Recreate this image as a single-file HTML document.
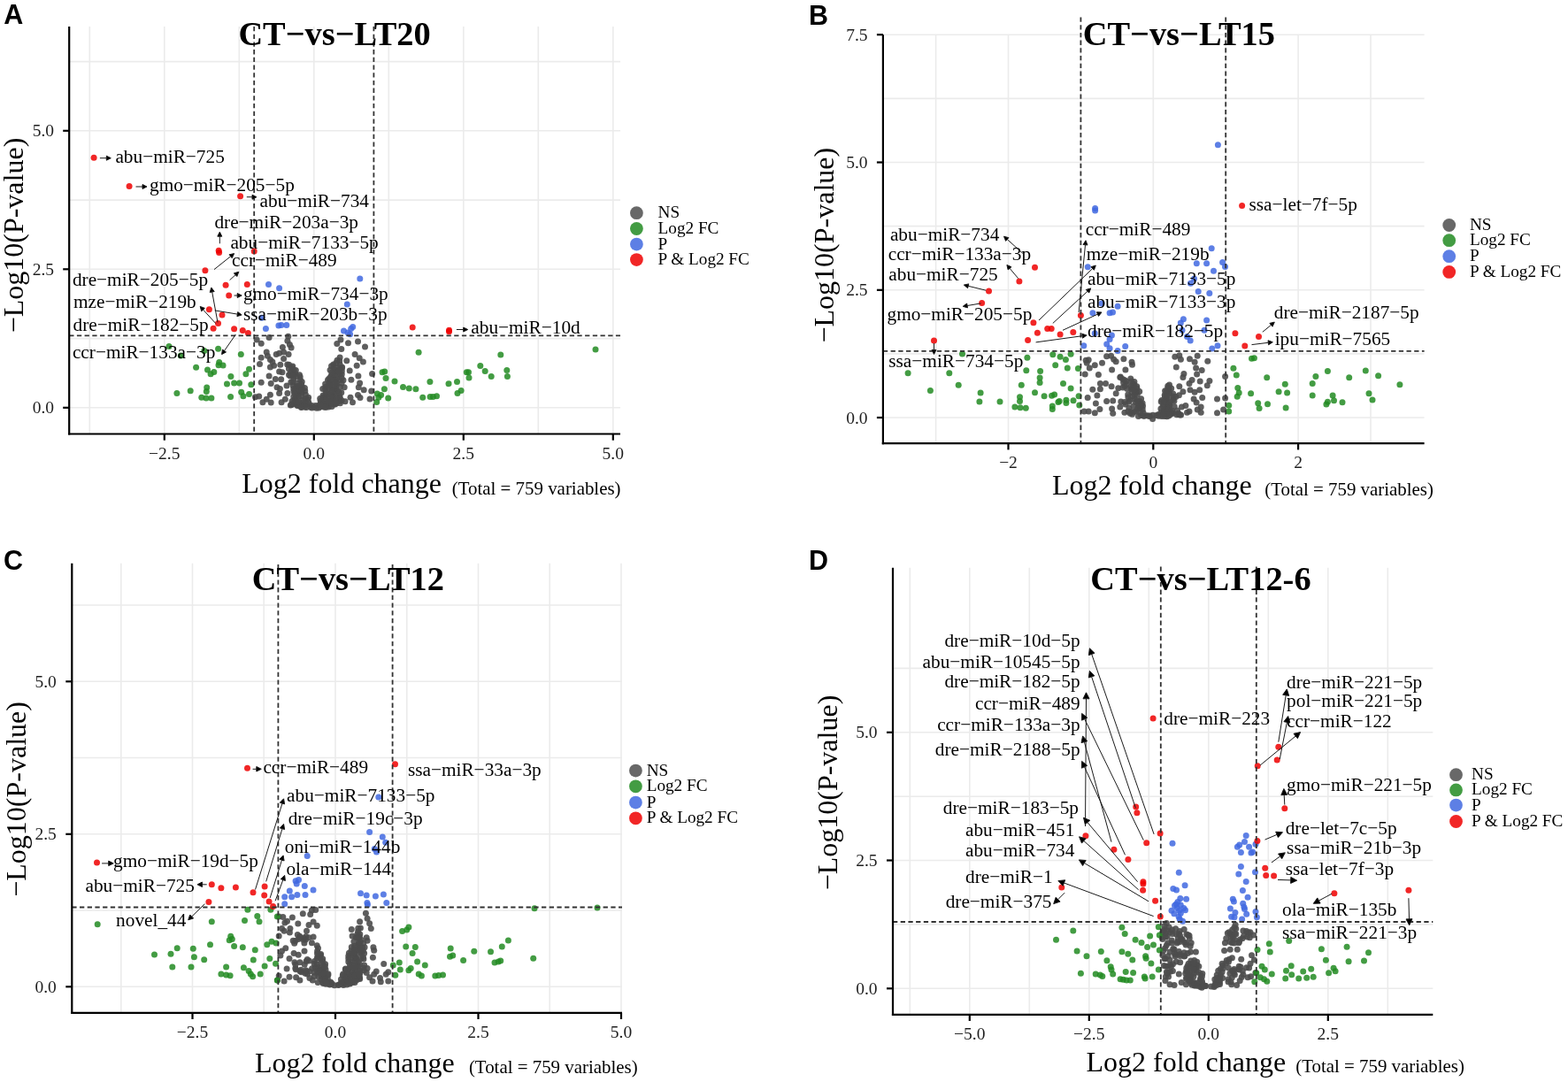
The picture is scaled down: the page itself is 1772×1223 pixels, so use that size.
<!DOCTYPE html>
<html><head><meta charset="utf-8"><title>Volcano plots</title>
<style>html,body{margin:0;padding:0;background:#fff;overflow:hidden;}svg{display:block;}</style>
</head><body>
<svg width="1772" height="1223" viewBox="0 0 1772 1223">
<defs><clipPath id="clipD"><rect x="1000" y="600" width="619.8" height="560"/></clipPath></defs>
<rect width="1772" height="1223" fill="#fff"/>
<g id="panelA"><g stroke="#ebebeb" stroke-width="1.6" fill="none">
<line x1="78.2" y1="460.8" x2="701" y2="460.8"/>
<line x1="78.2" y1="304.3" x2="701" y2="304.3"/>
<line x1="78.2" y1="147.8" x2="701" y2="147.8"/>
<line x1="78.2" y1="382.6" x2="701" y2="382.6"/>
<line x1="78.2" y1="226.1" x2="701" y2="226.1"/>
<line x1="78.2" y1="69.6" x2="701" y2="69.6"/>
<line x1="185.8" y1="30" x2="185.8" y2="490.5"/>
<line x1="354.8" y1="30" x2="354.8" y2="490.5"/>
<line x1="523.8" y1="30" x2="523.8" y2="490.5"/>
<line x1="692.8" y1="30" x2="692.8" y2="490.5"/>
<line x1="101.3" y1="30" x2="101.3" y2="490.5"/>
<line x1="270.3" y1="30" x2="270.3" y2="490.5"/>
<line x1="439.3" y1="30" x2="439.3" y2="490.5"/>
<line x1="608.3" y1="30" x2="608.3" y2="490.5"/>
</g>
<g>
<g fill="#4d4d4d" fill-opacity="0.9">
<circle cx="379.6" cy="429.3" r="3.5"/>
<circle cx="333.9" cy="422.4" r="3.5"/>
<circle cx="388" cy="429.7" r="3.5"/>
<circle cx="373.1" cy="418.3" r="3.5"/>
<circle cx="317.7" cy="428.8" r="3.5"/>
<circle cx="330.8" cy="414" r="3.5"/>
<circle cx="404.9" cy="425" r="3.5"/>
<circle cx="376.2" cy="448.1" r="3.5"/>
<circle cx="401.1" cy="400.5" r="3.5"/>
<circle cx="370.8" cy="449.4" r="3.5"/>
<circle cx="381.2" cy="442.1" r="3.5"/>
<circle cx="325.7" cy="380.2" r="3.5"/>
<circle cx="377.4" cy="452.3" r="3.5"/>
<circle cx="315.6" cy="444.5" r="3.5"/>
<circle cx="364.9" cy="448.9" r="3.5"/>
<circle cx="377.8" cy="456.6" r="3.5"/>
<circle cx="404.5" cy="446.6" r="3.5"/>
<circle cx="360.4" cy="458.2" r="3.5"/>
<circle cx="334.2" cy="450.3" r="3.5"/>
<circle cx="290.2" cy="384" r="3.5"/>
<circle cx="324.9" cy="385.2" r="3.5"/>
<circle cx="329.1" cy="457.6" r="3.5"/>
<circle cx="364" cy="451.4" r="3.5"/>
<circle cx="336.2" cy="445.8" r="3.5"/>
<circle cx="328.8" cy="431.9" r="3.5"/>
<circle cx="339.2" cy="426.1" r="3.5"/>
<circle cx="367" cy="457.9" r="3.5"/>
<circle cx="345.6" cy="450.4" r="3.5"/>
<circle cx="329.5" cy="418.9" r="3.5"/>
<circle cx="374.6" cy="424.3" r="3.5"/>
<circle cx="344.8" cy="441.9" r="3.5"/>
<circle cx="311.3" cy="428.4" r="3.5"/>
<circle cx="378.6" cy="456.9" r="3.5"/>
<circle cx="363.4" cy="456.6" r="3.5"/>
<circle cx="360.4" cy="460.9" r="3.5"/>
<circle cx="379.6" cy="439.6" r="3.5"/>
<circle cx="371.3" cy="458.5" r="3.5"/>
<circle cx="368.7" cy="459.2" r="3.5"/>
<circle cx="366.6" cy="448.5" r="3.5"/>
<circle cx="309.6" cy="413.2" r="3.5"/>
<circle cx="304.1" cy="425" r="3.5"/>
<circle cx="328" cy="425" r="3.5"/>
<circle cx="370.3" cy="454.8" r="3.5"/>
<circle cx="365" cy="447.1" r="3.5"/>
<circle cx="362.3" cy="456.4" r="3.5"/>
<circle cx="386.4" cy="416.1" r="3.5"/>
<circle cx="385" cy="384" r="3.5"/>
<circle cx="320.6" cy="397.9" r="3.5"/>
<circle cx="337.7" cy="438.8" r="3.5"/>
<circle cx="340.4" cy="459.9" r="3.5"/>
<circle cx="338.5" cy="423.7" r="3.5"/>
<circle cx="344.2" cy="457.7" r="3.5"/>
<circle cx="345.4" cy="457.7" r="3.5"/>
<circle cx="332.9" cy="451.6" r="3.5"/>
<circle cx="376.4" cy="447.3" r="3.5"/>
<circle cx="331.5" cy="455.2" r="3.5"/>
<circle cx="386.3" cy="422.9" r="3.5"/>
<circle cx="295.2" cy="388.2" r="3.5"/>
<circle cx="330.9" cy="456.9" r="3.5"/>
<circle cx="383.9" cy="449.5" r="3.5"/>
<circle cx="384.3" cy="423" r="3.5"/>
<circle cx="330" cy="453.5" r="3.5"/>
<circle cx="339.2" cy="429.5" r="3.5"/>
<circle cx="319" cy="420.8" r="3.5"/>
<circle cx="349.3" cy="456.8" r="3.5"/>
<circle cx="335.7" cy="457.2" r="3.5"/>
<circle cx="332" cy="428.1" r="3.5"/>
<circle cx="315.6" cy="420" r="3.5"/>
<circle cx="344.4" cy="457.7" r="3.5"/>
<circle cx="344.4" cy="438.5" r="3.5"/>
<circle cx="342.1" cy="454.7" r="3.5"/>
<circle cx="374.8" cy="440.4" r="3.5"/>
<circle cx="324" cy="436" r="3.5"/>
<circle cx="407" cy="449.6" r="3.5"/>
<circle cx="378.4" cy="441.9" r="3.5"/>
<circle cx="288.5" cy="448.7" r="3.5"/>
<circle cx="386.6" cy="414.9" r="3.5"/>
<circle cx="329.9" cy="415.3" r="3.5"/>
<circle cx="405.3" cy="437.7" r="3.5"/>
<circle cx="337.4" cy="444.9" r="3.5"/>
<circle cx="337.6" cy="455.6" r="3.5"/>
<circle cx="373" cy="455.3" r="3.5"/>
<circle cx="383.9" cy="453.6" r="3.5"/>
<circle cx="305.4" cy="414.9" r="3.5"/>
<circle cx="307.9" cy="409" r="3.5"/>
<circle cx="332.3" cy="418.3" r="3.5"/>
<circle cx="380.3" cy="435.6" r="3.5"/>
<circle cx="367.9" cy="452.2" r="3.5"/>
<circle cx="386.2" cy="452.8" r="3.5"/>
<circle cx="404.5" cy="386.1" r="3.5"/>
<circle cx="371.3" cy="445.8" r="3.5"/>
<circle cx="411.2" cy="440.7" r="3.5"/>
<circle cx="383.2" cy="417.8" r="3.5"/>
<circle cx="396" cy="449.2" r="3.5"/>
<circle cx="333" cy="444.4" r="3.5"/>
<circle cx="326.6" cy="412.3" r="3.5"/>
<circle cx="382.8" cy="415.2" r="3.5"/>
<circle cx="383.5" cy="429.6" r="3.5"/>
<circle cx="340.9" cy="444" r="3.5"/>
<circle cx="330.8" cy="431.7" r="3.5"/>
<circle cx="370.5" cy="429.4" r="3.5"/>
<circle cx="386" cy="433.3" r="3.5"/>
<circle cx="313" cy="437.7" r="3.5"/>
<circle cx="378" cy="420.8" r="3.5"/>
<circle cx="351" cy="460.3" r="3.5"/>
<circle cx="331.2" cy="436.1" r="3.5"/>
<circle cx="380.8" cy="388.6" r="3.5"/>
<circle cx="376.8" cy="412" r="3.5"/>
<circle cx="419.7" cy="442" r="3.5"/>
<circle cx="373.5" cy="453.5" r="3.5"/>
<circle cx="373.6" cy="426" r="3.5"/>
<circle cx="331.9" cy="442.3" r="3.5"/>
<circle cx="367.7" cy="456.3" r="3.5"/>
<circle cx="384.1" cy="448.7" r="3.5"/>
<circle cx="357.8" cy="461.3" r="3.5"/>
<circle cx="296.9" cy="454.7" r="3.5"/>
<circle cx="334.4" cy="447.8" r="3.5"/>
<circle cx="295.2" cy="432.2" r="3.5"/>
<circle cx="334.7" cy="441.8" r="3.5"/>
<circle cx="322.3" cy="451.3" r="3.5"/>
<circle cx="383.7" cy="408.1" r="3.5"/>
<circle cx="335.6" cy="433.3" r="3.5"/>
<circle cx="376.5" cy="457.1" r="3.5"/>
<circle cx="380.1" cy="420.2" r="3.5"/>
<circle cx="324.9" cy="444.5" r="3.5"/>
<circle cx="384.1" cy="404.1" r="3.5"/>
<circle cx="374.5" cy="413.8" r="3.5"/>
<circle cx="301.2" cy="451.3" r="3.5"/>
<circle cx="341.1" cy="458.2" r="3.5"/>
<circle cx="347.8" cy="451" r="3.5"/>
<circle cx="380.2" cy="433.3" r="3.5"/>
<circle cx="341.9" cy="457.3" r="3.5"/>
<circle cx="367.6" cy="439.6" r="3.5"/>
<circle cx="352.5" cy="461" r="3.5"/>
<circle cx="368.4" cy="445.2" r="3.5"/>
<circle cx="304.1" cy="381.4" r="3.5"/>
<circle cx="391.8" cy="407.7" r="3.5"/>
<circle cx="380" cy="423.9" r="3.5"/>
<circle cx="386" cy="427.2" r="3.5"/>
<circle cx="380.3" cy="446.8" r="3.5"/>
<circle cx="385.8" cy="394.6" r="3.5"/>
<circle cx="376.6" cy="439.7" r="3.5"/>
<circle cx="371.8" cy="427.9" r="3.5"/>
<circle cx="345.4" cy="445.9" r="3.5"/>
<circle cx="375" cy="437.3" r="3.5"/>
<circle cx="379.5" cy="453.2" r="3.5"/>
<circle cx="412.5" cy="392" r="3.5"/>
<circle cx="331.9" cy="422.8" r="3.5"/>
<circle cx="384.3" cy="437.5" r="3.5"/>
<circle cx="339" cy="440.9" r="3.5"/>
<circle cx="380.2" cy="427.8" r="3.5"/>
<circle cx="384.4" cy="455.8" r="3.5"/>
<circle cx="376.9" cy="413.3" r="3.5"/>
<circle cx="326.1" cy="400.5" r="3.5"/>
<circle cx="328.3" cy="458.1" r="3.5"/>
<circle cx="371.2" cy="439.7" r="3.5"/>
<circle cx="386.3" cy="419.5" r="3.5"/>
<circle cx="336.1" cy="458.5" r="3.5"/>
<circle cx="368.8" cy="457.1" r="3.5"/>
<circle cx="418" cy="450.9" r="3.5"/>
<circle cx="384.1" cy="412" r="3.5"/>
<circle cx="326.5" cy="423.7" r="3.5"/>
<circle cx="385.8" cy="443.7" r="3.5"/>
<circle cx="335.9" cy="436.5" r="3.5"/>
<circle cx="377.9" cy="418.3" r="3.5"/>
<circle cx="380" cy="418.4" r="3.5"/>
<circle cx="318.1" cy="454.7" r="3.5"/>
<circle cx="381" cy="407.3" r="3.5"/>
<circle cx="346.2" cy="460.4" r="3.5"/>
<circle cx="379.6" cy="449" r="3.5"/>
<circle cx="334.4" cy="438" r="3.5"/>
<circle cx="368.3" cy="443.7" r="3.5"/>
<circle cx="329.1" cy="392.9" r="3.5"/>
<circle cx="341.2" cy="431.5" r="3.5"/>
<circle cx="362.2" cy="453.2" r="3.5"/>
<circle cx="341.3" cy="437.7" r="3.5"/>
<circle cx="337.2" cy="448.3" r="3.5"/>
<circle cx="373" cy="433.5" r="3.5"/>
<circle cx="337.3" cy="458.6" r="3.5"/>
<circle cx="362.4" cy="459.5" r="3.5"/>
<circle cx="344.7" cy="455.6" r="3.5"/>
<circle cx="403.2" cy="413.2" r="3.5"/>
<circle cx="331.8" cy="448.2" r="3.5"/>
<circle cx="316.8" cy="412.3" r="3.5"/>
<circle cx="396.9" cy="429.3" r="3.5"/>
<circle cx="368" cy="437.3" r="3.5"/>
<circle cx="306.2" cy="433.5" r="3.5"/>
<circle cx="374.3" cy="446.3" r="3.5"/>
<circle cx="371.9" cy="433.2" r="3.5"/>
<circle cx="341.9" cy="452.1" r="3.5"/>
<circle cx="380" cy="455.9" r="3.5"/>
<circle cx="398.5" cy="454.7" r="3.5"/>
<circle cx="340.7" cy="434.5" r="3.5"/>
<circle cx="367.6" cy="434.1" r="3.5"/>
<circle cx="395.2" cy="419.1" r="3.5"/>
<circle cx="326.4" cy="416.7" r="3.5"/>
<circle cx="334.2" cy="425.5" r="3.5"/>
<circle cx="319.4" cy="392.4" r="3.5"/>
<circle cx="295.2" cy="404.3" r="3.5"/>
<circle cx="320.6" cy="405.6" r="3.5"/>
<circle cx="335.1" cy="453.8" r="3.5"/>
<circle cx="376.7" cy="436.3" r="3.5"/>
<circle cx="324.7" cy="412.1" r="3.5"/>
<circle cx="305.4" cy="446.2" r="3.5"/>
<circle cx="340.4" cy="447.8" r="3.5"/>
<circle cx="306.2" cy="455.1" r="3.5"/>
<circle cx="390.1" cy="453.8" r="3.5"/>
<circle cx="338.1" cy="436.5" r="3.5"/>
<circle cx="371.3" cy="460.1" r="3.5"/>
<circle cx="348.7" cy="454.4" r="3.5"/>
<circle cx="375.1" cy="442.1" r="3.5"/>
<circle cx="364.7" cy="439.6" r="3.5"/>
<circle cx="406.2" cy="404.7" r="3.5"/>
<circle cx="365.4" cy="458.5" r="3.5"/>
<circle cx="374.3" cy="429.1" r="3.5"/>
<circle cx="365.7" cy="460" r="3.5"/>
<circle cx="420.6" cy="422.5" r="3.5"/>
<circle cx="305.4" cy="406.4" r="3.5"/>
<circle cx="371.6" cy="435.9" r="3.5"/>
<circle cx="377.7" cy="422.8" r="3.5"/>
<circle cx="292.7" cy="447.9" r="3.5"/>
<circle cx="374.9" cy="421.1" r="3.5"/>
<circle cx="312.2" cy="400.5" r="3.5"/>
<circle cx="328" cy="422" r="3.5"/>
<circle cx="327.4" cy="389.5" r="3.5"/>
<circle cx="373.3" cy="448.7" r="3.5"/>
<circle cx="356.8" cy="458.5" r="3.5"/>
<circle cx="316.4" cy="439.4" r="3.5"/>
<circle cx="377.1" cy="430.2" r="3.5"/>
<circle cx="378.3" cy="432.3" r="3.5"/>
<circle cx="361.7" cy="450.5" r="3.5"/>
<circle cx="293.5" cy="411.5" r="3.5"/>
<circle cx="344.4" cy="460" r="3.5"/>
<circle cx="393.5" cy="387.8" r="3.5"/>
<circle cx="379.8" cy="410.3" r="3.5"/>
<circle cx="302.4" cy="402.2" r="3.5"/>
<circle cx="375" cy="459.4" r="3.5"/>
<circle cx="330.9" cy="424.6" r="3.5"/>
<circle cx="352.6" cy="458.5" r="3.5"/>
<circle cx="410.4" cy="409" r="3.5"/>
<circle cx="374.5" cy="455.4" r="3.5"/>
<circle cx="368" cy="460.5" r="3.5"/>
<circle cx="334.3" cy="418.5" r="3.5"/>
<circle cx="379.8" cy="455.5" r="3.5"/>
<circle cx="382.7" cy="419.8" r="3.5"/>
<circle cx="355.4" cy="460.1" r="3.5"/>
<circle cx="340.6" cy="460.4" r="3.5"/>
<circle cx="362.1" cy="457.4" r="3.5"/>
<circle cx="337.2" cy="454" r="3.5"/>
<circle cx="370.8" cy="453.6" r="3.5"/>
<circle cx="301.2" cy="397.9" r="3.5"/>
<circle cx="315.6" cy="399.2" r="3.5"/>
<circle cx="389.2" cy="437.7" r="3.5"/>
<circle cx="340.9" cy="441.3" r="3.5"/>
<circle cx="331.8" cy="439.5" r="3.5"/>
<circle cx="406.6" cy="433.1" r="3.5"/>
<circle cx="383.2" cy="443.7" r="3.5"/>
<circle cx="348.6" cy="449.3" r="3.5"/>
</g>
<g fill="#228b22" fill-opacity="0.85">
<circle cx="191" cy="391.4" r="3.5"/>
<circle cx="204.3" cy="402.1" r="3.5"/>
<circle cx="230.8" cy="396.6" r="3.5"/>
<circle cx="246.6" cy="394.3" r="3.5"/>
<circle cx="272.3" cy="400.6" r="3.5"/>
<circle cx="221.6" cy="415.3" r="3.5"/>
<circle cx="234.5" cy="417.9" r="3.5"/>
<circle cx="238.1" cy="422.7" r="3.5"/>
<circle cx="241.8" cy="420.5" r="3.5"/>
<circle cx="247.7" cy="409.4" r="3.5"/>
<circle cx="247" cy="412.7" r="3.5"/>
<circle cx="252.1" cy="413.1" r="3.5"/>
<circle cx="260.9" cy="425.6" r="3.5"/>
<circle cx="277.9" cy="422.7" r="3.5"/>
<circle cx="281.5" cy="417.2" r="3.5"/>
<circle cx="256.5" cy="434.1" r="3.5"/>
<circle cx="264.6" cy="433" r="3.5"/>
<circle cx="270.5" cy="433" r="3.5"/>
<circle cx="283.8" cy="434.8" r="3.5"/>
<circle cx="272.7" cy="443.3" r="3.5"/>
<circle cx="274.9" cy="447.7" r="3.5"/>
<circle cx="281.5" cy="445.5" r="3.5"/>
<circle cx="260.6" cy="448.4" r="3.5"/>
<circle cx="199.9" cy="444.4" r="3.5"/>
<circle cx="215.2" cy="441.8" r="3.5"/>
<circle cx="233.7" cy="438.1" r="3.5"/>
<circle cx="233.3" cy="442.5" r="3.5"/>
<circle cx="227.8" cy="449.2" r="3.5"/>
<circle cx="233" cy="449.9" r="3.5"/>
<circle cx="238.9" cy="449.9" r="3.5"/>
<circle cx="473.1" cy="398.3" r="3.5"/>
<circle cx="673" cy="395" r="3.5"/>
<circle cx="565.8" cy="401" r="3.5"/>
<circle cx="542.8" cy="413.4" r="3.5"/>
<circle cx="548.2" cy="419.4" r="3.5"/>
<circle cx="555.2" cy="425.6" r="3.5"/>
<circle cx="572.8" cy="418.6" r="3.5"/>
<circle cx="573.4" cy="425.6" r="3.5"/>
<circle cx="527.3" cy="420.7" r="3.5"/>
<circle cx="529.5" cy="420.7" r="3.5"/>
<circle cx="530" cy="427" r="3.5"/>
<circle cx="432" cy="420.7" r="3.5"/>
<circle cx="434.7" cy="419.9" r="3.5"/>
<circle cx="436" cy="427.5" r="3.5"/>
<circle cx="446" cy="431" r="3.5"/>
<circle cx="455.5" cy="437.5" r="3.5"/>
<circle cx="462.3" cy="438.9" r="3.5"/>
<circle cx="469.9" cy="439.7" r="3.5"/>
<circle cx="434.4" cy="439.7" r="3.5"/>
<circle cx="426.3" cy="445.1" r="3.5"/>
<circle cx="427.9" cy="449.2" r="3.5"/>
<circle cx="425.7" cy="454.6" r="3.5"/>
<circle cx="430.6" cy="446.5" r="3.5"/>
<circle cx="438.7" cy="450" r="3.5"/>
<circle cx="477.7" cy="449.2" r="3.5"/>
<circle cx="485.9" cy="431.6" r="3.5"/>
<circle cx="486.1" cy="448.6" r="3.5"/>
<circle cx="489.4" cy="448.4" r="3.5"/>
<circle cx="493.5" cy="447.8" r="3.5"/>
<circle cx="507" cy="433.7" r="3.5"/>
<circle cx="516.5" cy="431.6" r="3.5"/>
<circle cx="517" cy="444.6" r="3.5"/>
<circle cx="521.1" cy="441.6" r="3.5"/>
</g>
<g fill="#4169e1" fill-opacity="0.85">
<circle cx="303.5" cy="321.4" r="3.5"/>
<circle cx="315.6" cy="325.7" r="3.5"/>
<circle cx="406.8" cy="315" r="3.5"/>
<circle cx="392.3" cy="344" r="3.5"/>
<circle cx="295.8" cy="359.2" r="3.5"/>
<circle cx="300.4" cy="371.4" r="3.5"/>
<circle cx="314.9" cy="368.1" r="3.5"/>
<circle cx="317.9" cy="367.6" r="3.5"/>
<circle cx="323.8" cy="367.6" r="3.5"/>
<circle cx="388.5" cy="374" r="3.5"/>
<circle cx="393.1" cy="376" r="3.5"/>
<circle cx="396.7" cy="371.4" r="3.5"/>
<circle cx="398.7" cy="369.4" r="3.5"/>
<circle cx="395.6" cy="377.8" r="3.5"/>
</g>
<g fill="#ee0000" fill-opacity="0.85">
<circle cx="106.1" cy="178.2" r="3.5"/>
<circle cx="146.1" cy="210.5" r="3.5"/>
<circle cx="271.6" cy="221.8" r="3.5"/>
<circle cx="247.2" cy="283.2" r="3.5"/>
<circle cx="247.6" cy="285.4" r="3.5"/>
<circle cx="287.2" cy="283.9" r="3.5"/>
<circle cx="231.9" cy="305.8" r="3.5"/>
<circle cx="255.1" cy="322.2" r="3.5"/>
<circle cx="279.3" cy="321.6" r="3.5"/>
<circle cx="258.7" cy="334" r="3.5"/>
<circle cx="236.4" cy="349.8" r="3.5"/>
<circle cx="251" cy="356.1" r="3.5"/>
<circle cx="246.5" cy="365.6" r="3.5"/>
<circle cx="241.1" cy="371.2" r="3.5"/>
<circle cx="264.6" cy="371.7" r="3.5"/>
<circle cx="274.3" cy="373.5" r="3.5"/>
<circle cx="280.4" cy="376.4" r="3.5"/>
<circle cx="466.2" cy="370.1" r="3.5"/>
<circle cx="507.5" cy="373.3" r="3.5"/>
<circle cx="507.5" cy="374.7" r="3.5"/>
</g>
</g>
<g stroke="#333" stroke-width="1.8" stroke-dasharray="5.3 3.4" fill="none">
<line x1="287.2" y1="30" x2="287.2" y2="490.5"/>
<line x1="422.4" y1="30" x2="422.4" y2="490.5"/>
<line x1="78.2" y1="379.4" x2="701" y2="379.4"/>
</g>
<g stroke="#1a1a1a" stroke-width="1" fill="#000">
<line x1="112.9" y1="178.7" x2="120.3" y2="178.7"/><polygon points="125.3,178.7 120.3,181.2 120.3,176.2"/>
<line x1="153.5" y1="211" x2="161" y2="211"/><polygon points="166,211 161,213.5 161,208.5"/>
<line x1="278.8" y1="222.7" x2="285" y2="222.7"/><polygon points="290,222.7 285,225.2 285,220.2"/>
<line x1="248.3" y1="275.3" x2="248.3" y2="267.2"/><polygon points="248.3,262.2 250.8,267.2 245.8,267.2"/>
<line x1="242" y1="304.6" x2="260.7" y2="289.7"/><polygon points="264.6,286.6 262.2,291.7 259.1,287.8"/>
<line x1="259.6" y1="316.6" x2="266.1" y2="310.7"/><polygon points="269.8,307.3 267.8,312.5 264.4,308.8"/>
<line x1="246" y1="364.4" x2="239.7" y2="329.9"/><polygon points="238.8,325 242.2,329.5 237.2,330.4"/>
<line x1="243.8" y1="365.6" x2="229.6" y2="350.1"/><polygon points="226.2,346.4 231.4,348.4 227.7,351.8"/>
<line x1="242.7" y1="350.9" x2="268.3" y2="355.1"/><polygon points="273.2,355.9 267.9,357.6 268.7,352.6"/>
<line x1="264.6" y1="334" x2="268.2" y2="334"/><polygon points="273.2,334 268.2,336.5 268.2,331.5"/>
<line x1="266.4" y1="378" x2="253.5" y2="396.5"/><polygon points="250.6,400.6 251.4,395.1 255.5,397.9"/>
<line x1="515.9" y1="372.5" x2="523.7" y2="372.5"/><polygon points="528.7,372.5 523.7,375 523.7,370"/>
</g>
<g font-family="'Liberation Serif', 'Times New Roman', serif" font-size="21.3" fill="#000">
<text x="130.4" y="183.9">abu−miR−725</text>
<text x="169" y="215.5">gmo−miR−205−5p</text>
<text x="293.6" y="233.5">abu−miR−734</text>
<text x="242.4" y="258.4">dre−miR−203a−3p</text>
<text x="260.4" y="281">abu−miR−7133−5p</text>
<text x="262" y="300.8">ccr−miR−489</text>
<text x="81.9" y="322.7">dre−miR−205−5p</text>
<text x="274.9" y="338.5">gmo−miR−734−3p</text>
<text x="83" y="347.5">mze−miR−219b</text>
<text x="274.9" y="362.2">ssa−miR−203b−3p</text>
<text x="82.5" y="373.5">dre−miR−182−5p</text>
<text x="81.9" y="405">ccr−miR−133a−3p</text>
<text x="532.3" y="377.4">abu−miR−10d</text>
</g>
<g stroke="#000" stroke-width="2.2" fill="none" stroke-linecap="butt">
<line x1="78.2" y1="30" x2="78.2" y2="491.6"/>
<line x1="77.1" y1="490.5" x2="701" y2="490.5"/>
<line x1="185.8" y1="490.5" x2="185.8" y2="497.7"/>
<line x1="354.8" y1="490.5" x2="354.8" y2="497.7"/>
<line x1="523.8" y1="490.5" x2="523.8" y2="497.7"/>
<line x1="692.8" y1="490.5" x2="692.8" y2="497.7"/>
<line x1="71.2" y1="460.8" x2="78.2" y2="460.8"/>
<line x1="71.2" y1="304.3" x2="78.2" y2="304.3"/>
<line x1="71.2" y1="147.8" x2="78.2" y2="147.8"/>
</g>
<g font-family="'Liberation Serif', 'Times New Roman', serif" font-size="19.5" fill="#1e1e1e">
<text x="185.8" y="518.6" text-anchor="middle">−2.5</text>
<text x="354.8" y="518.6" text-anchor="middle">0.0</text>
<text x="523.8" y="518.6" text-anchor="middle">2.5</text>
<text x="692.8" y="518.6" text-anchor="middle">5.0</text>
<text x="61" y="467.4" text-anchor="end">0.0</text>
<text x="61" y="310.9" text-anchor="end">2.5</text>
<text x="61" y="154.4" text-anchor="end">5.0</text>
</g>
<text x="269.4" y="50.8" font-family="'Liberation Serif', 'Times New Roman', serif" font-weight="bold" font-size="38.4" fill="#000">CT−vs−LT20</text>
<text x="273.3" y="556.6" font-family="'Liberation Serif', 'Times New Roman', serif" font-size="32" fill="#000">Log2 fold change</text>
<text x="510.8" y="558.6" font-family="'Liberation Serif', 'Times New Roman', serif" font-size="20.9" fill="#000">(Total = 759 variables)</text>
<text transform="translate(26.1,266) rotate(-90)" text-anchor="middle" font-family="'Liberation Serif', 'Times New Roman', serif" font-size="32" fill="#000">−Log10(P-value)</text>
<text x="4.2" y="27.1" font-family="'Liberation Sans', Arial, sans-serif" font-weight="bold" font-size="30.5" fill="#000">A</text>
<circle cx="719.4" cy="240.7" r="7.4" fill="#4d4d4d" fill-opacity="0.85"/>
<text x="743.6" y="246.1" font-family="'Liberation Serif', 'Times New Roman', serif" font-size="19.2" fill="#000">NS</text>
<circle cx="719.4" cy="258.5" r="7.4" fill="#228b22" fill-opacity="0.85"/>
<text x="743.6" y="263.9" font-family="'Liberation Serif', 'Times New Roman', serif" font-size="19.2" fill="#000">Log2 FC</text>
<circle cx="719.4" cy="276.1" r="7.4" fill="#4169e1" fill-opacity="0.85"/>
<text x="743.6" y="281.5" font-family="'Liberation Serif', 'Times New Roman', serif" font-size="19.2" fill="#000">P</text>
<circle cx="719.4" cy="293.6" r="7.4" fill="#ee0000" fill-opacity="0.85"/>
<text x="743.6" y="299" font-family="'Liberation Serif', 'Times New Roman', serif" font-size="19.2" fill="#000">P &amp; Log2 FC</text></g>
<g id="panelB"><g stroke="#ebebeb" stroke-width="1.6" fill="none">
<line x1="997.9" y1="472" x2="1609.6" y2="472"/>
<line x1="997.9" y1="327.8" x2="1609.6" y2="327.8"/>
<line x1="997.9" y1="183.5" x2="1609.6" y2="183.5"/>
<line x1="997.9" y1="39.2" x2="1609.6" y2="39.2"/>
<line x1="997.9" y1="399.9" x2="1609.6" y2="399.9"/>
<line x1="997.9" y1="255.6" x2="1609.6" y2="255.6"/>
<line x1="997.9" y1="111.4" x2="1609.6" y2="111.4"/>
<line x1="1139.5" y1="39.2" x2="1139.5" y2="501.2"/>
<line x1="1303.3" y1="39.2" x2="1303.3" y2="501.2"/>
<line x1="1467.1" y1="39.2" x2="1467.1" y2="501.2"/>
<line x1="1057.6" y1="39.2" x2="1057.6" y2="501.2"/>
<line x1="1221.4" y1="39.2" x2="1221.4" y2="501.2"/>
<line x1="1385.2" y1="39.2" x2="1385.2" y2="501.2"/>
<line x1="1549" y1="39.2" x2="1549" y2="501.2"/>
</g>
<g>
<g fill="#4d4d4d" fill-opacity="0.9">
<circle cx="1311.9" cy="462.1" r="3.5"/>
<circle cx="1321.4" cy="462.3" r="3.5"/>
<circle cx="1332.3" cy="468.2" r="3.5"/>
<circle cx="1344" cy="465.1" r="3.5"/>
<circle cx="1281.4" cy="436.2" r="3.5"/>
<circle cx="1280" cy="448.1" r="3.5"/>
<circle cx="1285" cy="439.3" r="3.5"/>
<circle cx="1317.2" cy="461.8" r="3.5"/>
<circle cx="1282.4" cy="450.8" r="3.5"/>
<circle cx="1272.9" cy="434.3" r="3.5"/>
<circle cx="1256.6" cy="462.1" r="3.5"/>
<circle cx="1325.7" cy="445" r="3.5"/>
<circle cx="1257.7" cy="453" r="3.5"/>
<circle cx="1281.9" cy="434.6" r="3.5"/>
<circle cx="1345" cy="440.8" r="3.5"/>
<circle cx="1352.1" cy="455" r="3.5"/>
<circle cx="1228.2" cy="410.3" r="3.5"/>
<circle cx="1278.5" cy="465.4" r="3.5"/>
<circle cx="1318.5" cy="451.8" r="3.5"/>
<circle cx="1341.5" cy="466.2" r="3.5"/>
<circle cx="1274.7" cy="446.1" r="3.5"/>
<circle cx="1302.6" cy="473.4" r="3.5"/>
<circle cx="1237.3" cy="466.7" r="3.5"/>
<circle cx="1279.8" cy="438.4" r="3.5"/>
<circle cx="1269.9" cy="405.7" r="3.5"/>
<circle cx="1327.8" cy="403.2" r="3.5"/>
<circle cx="1351.6" cy="415.9" r="3.5"/>
<circle cx="1334.6" cy="468.9" r="3.5"/>
<circle cx="1250.6" cy="402.7" r="3.5"/>
<circle cx="1283.5" cy="454.4" r="3.5"/>
<circle cx="1256.1" cy="436.7" r="3.5"/>
<circle cx="1278.3" cy="439.7" r="3.5"/>
<circle cx="1286.6" cy="459.5" r="3.5"/>
<circle cx="1282.7" cy="442.7" r="3.5"/>
<circle cx="1312.9" cy="470.4" r="3.5"/>
<circle cx="1320.6" cy="470" r="3.5"/>
<circle cx="1319.9" cy="464.8" r="3.5"/>
<circle cx="1288" cy="453.6" r="3.5"/>
<circle cx="1344.5" cy="405.7" r="3.5"/>
<circle cx="1344" cy="433.6" r="3.5"/>
<circle cx="1257.7" cy="467.2" r="3.5"/>
<circle cx="1317.9" cy="442.3" r="3.5"/>
<circle cx="1332.8" cy="436.7" r="3.5"/>
<circle cx="1291.2" cy="462.8" r="3.5"/>
<circle cx="1323.4" cy="467.4" r="3.5"/>
<circle cx="1321.4" cy="444.2" r="3.5"/>
<circle cx="1333.4" cy="468.9" r="3.5"/>
<circle cx="1286.5" cy="470.4" r="3.5"/>
<circle cx="1283.9" cy="465" r="3.5"/>
<circle cx="1336.9" cy="442.8" r="3.5"/>
<circle cx="1309.1" cy="468.5" r="3.5"/>
<circle cx="1324.7" cy="464.2" r="3.5"/>
<circle cx="1337.9" cy="422.5" r="3.5"/>
<circle cx="1316" cy="470.4" r="3.5"/>
<circle cx="1278.9" cy="443.5" r="3.5"/>
<circle cx="1330.5" cy="463.9" r="3.5"/>
<circle cx="1295.7" cy="469.7" r="3.5"/>
<circle cx="1285.2" cy="446.3" r="3.5"/>
<circle cx="1315" cy="457.1" r="3.5"/>
<circle cx="1355.7" cy="440.8" r="3.5"/>
<circle cx="1334.4" cy="406.2" r="3.5"/>
<circle cx="1237.3" cy="412.8" r="3.5"/>
<circle cx="1276.8" cy="452.3" r="3.5"/>
<circle cx="1327.2" cy="459.4" r="3.5"/>
<circle cx="1364.8" cy="408.3" r="3.5"/>
<circle cx="1241.4" cy="423.5" r="3.5"/>
<circle cx="1266.3" cy="425.9" r="3.5"/>
<circle cx="1279.5" cy="412.3" r="3.5"/>
<circle cx="1366.9" cy="430.6" r="3.5"/>
<circle cx="1281.6" cy="465.5" r="3.5"/>
<circle cx="1324.7" cy="466.8" r="3.5"/>
<circle cx="1312.9" cy="452.4" r="3.5"/>
<circle cx="1316.2" cy="446.4" r="3.5"/>
<circle cx="1275.8" cy="461" r="3.5"/>
<circle cx="1375.5" cy="466.7" r="3.5"/>
<circle cx="1326.3" cy="450" r="3.5"/>
<circle cx="1255.6" cy="402.2" r="3.5"/>
<circle cx="1277.8" cy="428" r="3.5"/>
<circle cx="1284.9" cy="442.9" r="3.5"/>
<circle cx="1292.6" cy="470.3" r="3.5"/>
<circle cx="1299.5" cy="470" r="3.5"/>
<circle cx="1358.2" cy="418.4" r="3.5"/>
<circle cx="1316.4" cy="448.3" r="3.5"/>
<circle cx="1282.3" cy="445.9" r="3.5"/>
<circle cx="1331.8" cy="467.2" r="3.5"/>
<circle cx="1289.8" cy="457" r="3.5"/>
<circle cx="1357.2" cy="460.1" r="3.5"/>
<circle cx="1312.4" cy="465.7" r="3.5"/>
<circle cx="1269.6" cy="432.5" r="3.5"/>
<circle cx="1271.9" cy="417.9" r="3.5"/>
<circle cx="1261.2" cy="444.8" r="3.5"/>
<circle cx="1288" cy="461.7" r="3.5"/>
<circle cx="1319.3" cy="442.2" r="3.5"/>
<circle cx="1332.8" cy="401.7" r="3.5"/>
<circle cx="1315.7" cy="463.5" r="3.5"/>
<circle cx="1318.5" cy="460.8" r="3.5"/>
<circle cx="1265.8" cy="426.5" r="3.5"/>
<circle cx="1335.4" cy="460.1" r="3.5"/>
<circle cx="1288.6" cy="466.4" r="3.5"/>
<circle cx="1349.1" cy="450.9" r="3.5"/>
<circle cx="1278.7" cy="431.1" r="3.5"/>
<circle cx="1384.6" cy="425.5" r="3.5"/>
<circle cx="1272.8" cy="431" r="3.5"/>
<circle cx="1231.3" cy="415.9" r="3.5"/>
<circle cx="1263.8" cy="438.7" r="3.5"/>
<circle cx="1289.6" cy="450.8" r="3.5"/>
<circle cx="1279.8" cy="434.3" r="3.5"/>
<circle cx="1321.2" cy="458.4" r="3.5"/>
<circle cx="1268.8" cy="428.6" r="3.5"/>
<circle cx="1314.1" cy="467.8" r="3.5"/>
<circle cx="1312.2" cy="454.1" r="3.5"/>
<circle cx="1325.7" cy="467.2" r="3.5"/>
<circle cx="1309.4" cy="470.2" r="3.5"/>
<circle cx="1318.7" cy="446.4" r="3.5"/>
<circle cx="1382.6" cy="463.1" r="3.5"/>
<circle cx="1347.1" cy="429.6" r="3.5"/>
<circle cx="1323.7" cy="439" r="3.5"/>
<circle cx="1281.9" cy="431.6" r="3.5"/>
<circle cx="1278" cy="437.2" r="3.5"/>
<circle cx="1266.8" cy="454" r="3.5"/>
<circle cx="1229.2" cy="449.4" r="3.5"/>
<circle cx="1318.9" cy="450.4" r="3.5"/>
<circle cx="1261.2" cy="408.8" r="3.5"/>
<circle cx="1299.3" cy="470.4" r="3.5"/>
<circle cx="1287.7" cy="442.5" r="3.5"/>
<circle cx="1317.5" cy="451.9" r="3.5"/>
<circle cx="1315.5" cy="467.6" r="3.5"/>
<circle cx="1291.5" cy="459.1" r="3.5"/>
<circle cx="1350.1" cy="409.3" r="3.5"/>
<circle cx="1320.3" cy="458.2" r="3.5"/>
<circle cx="1320.8" cy="441.4" r="3.5"/>
<circle cx="1319.8" cy="464.4" r="3.5"/>
<circle cx="1243.4" cy="439.7" r="3.5"/>
<circle cx="1289.7" cy="469.6" r="3.5"/>
<circle cx="1293.1" cy="469.9" r="3.5"/>
<circle cx="1273.8" cy="439.5" r="3.5"/>
<circle cx="1319.9" cy="438.3" r="3.5"/>
<circle cx="1336.9" cy="426.5" r="3.5"/>
<circle cx="1306.8" cy="469.6" r="3.5"/>
<circle cx="1357.2" cy="466.2" r="3.5"/>
<circle cx="1319.5" cy="456" r="3.5"/>
<circle cx="1319.8" cy="436.3" r="3.5"/>
<circle cx="1243.4" cy="433.6" r="3.5"/>
<circle cx="1250.6" cy="453.5" r="3.5"/>
<circle cx="1302.8" cy="469.2" r="3.5"/>
<circle cx="1281" cy="459" r="3.5"/>
<circle cx="1270.9" cy="466.2" r="3.5"/>
<circle cx="1274.9" cy="465.1" r="3.5"/>
<circle cx="1325.2" cy="452.2" r="3.5"/>
<circle cx="1234.8" cy="440.3" r="3.5"/>
<circle cx="1265.8" cy="460.1" r="3.5"/>
<circle cx="1356.2" cy="431.1" r="3.5"/>
<circle cx="1314.1" cy="459.1" r="3.5"/>
<circle cx="1321.5" cy="435" r="3.5"/>
<circle cx="1230.2" cy="406.7" r="3.5"/>
<circle cx="1325.2" cy="448.1" r="3.5"/>
<circle cx="1230.2" cy="465.1" r="3.5"/>
<circle cx="1329.9" cy="468.8" r="3.5"/>
<circle cx="1375.5" cy="450.9" r="3.5"/>
<circle cx="1329.3" cy="414.9" r="3.5"/>
<circle cx="1279.5" cy="468.2" r="3.5"/>
<circle cx="1315.2" cy="454.4" r="3.5"/>
<circle cx="1332.4" cy="446.7" r="3.5"/>
<circle cx="1321.8" cy="457.4" r="3.5"/>
<circle cx="1352.6" cy="423" r="3.5"/>
<circle cx="1320.5" cy="467" r="3.5"/>
<circle cx="1256.6" cy="417.9" r="3.5"/>
<circle cx="1328.9" cy="448.5" r="3.5"/>
<circle cx="1297.7" cy="469.9" r="3.5"/>
<circle cx="1245.5" cy="410.3" r="3.5"/>
<circle cx="1353.2" cy="463.1" r="3.5"/>
<circle cx="1249.5" cy="433.6" r="3.5"/>
<circle cx="1318.7" cy="470.7" r="3.5"/>
<circle cx="1281.7" cy="440.5" r="3.5"/>
<circle cx="1350.1" cy="443.3" r="3.5"/>
<circle cx="1238.4" cy="456" r="3.5"/>
<circle cx="1239.9" cy="446.9" r="3.5"/>
<circle cx="1258.7" cy="406.2" r="3.5"/>
<circle cx="1292" cy="466.6" r="3.5"/>
<circle cx="1326.9" cy="453.3" r="3.5"/>
<circle cx="1318.8" cy="447.5" r="3.5"/>
<circle cx="1276" cy="454" r="3.5"/>
<circle cx="1268.9" cy="438.1" r="3.5"/>
<circle cx="1310.9" cy="469.4" r="3.5"/>
<circle cx="1227.2" cy="407.2" r="3.5"/>
<circle cx="1279" cy="409.3" r="3.5"/>
<circle cx="1321" cy="439.2" r="3.5"/>
<circle cx="1322.4" cy="454.8" r="3.5"/>
<circle cx="1323" cy="465.7" r="3.5"/>
<circle cx="1316.6" cy="441.7" r="3.5"/>
<circle cx="1271" cy="436.6" r="3.5"/>
<circle cx="1284.7" cy="436.7" r="3.5"/>
<circle cx="1242.9" cy="462.6" r="3.5"/>
<circle cx="1277.2" cy="467.3" r="3.5"/>
<circle cx="1286.7" cy="456.3" r="3.5"/>
<circle cx="1364.3" cy="435.7" r="3.5"/>
<circle cx="1274.9" cy="448.9" r="3.5"/>
<circle cx="1271" cy="454.4" r="3.5"/>
<circle cx="1291.1" cy="455.7" r="3.5"/>
<circle cx="1271.1" cy="429.7" r="3.5"/>
<circle cx="1321.9" cy="469" r="3.5"/>
<circle cx="1271.9" cy="457" r="3.5"/>
<circle cx="1289.5" cy="459" r="3.5"/>
<circle cx="1384.6" cy="449.9" r="3.5"/>
<circle cx="1226.2" cy="423" r="3.5"/>
<circle cx="1353.2" cy="402.2" r="3.5"/>
<circle cx="1339.9" cy="458.5" r="3.5"/>
<circle cx="1314.5" cy="467.7" r="3.5"/>
<circle cx="1284.9" cy="452.7" r="3.5"/>
<circle cx="1358.7" cy="449.4" r="3.5"/>
<circle cx="1225.2" cy="465.1" r="3.5"/>
<circle cx="1285.6" cy="461.8" r="3.5"/>
</g>
<g fill="#228b22" fill-opacity="0.85">
<circle cx="1087.5" cy="399.9" r="3.5"/>
<circle cx="1026.1" cy="421.8" r="3.5"/>
<circle cx="1072.8" cy="421.8" r="3.5"/>
<circle cx="1083.2" cy="435.3" r="3.5"/>
<circle cx="1051.4" cy="441.6" r="3.5"/>
<circle cx="1108.1" cy="443.9" r="3.5"/>
<circle cx="1106.9" cy="454" r="3.5"/>
<circle cx="1130" cy="454" r="3.5"/>
<circle cx="1160.9" cy="404.2" r="3.5"/>
<circle cx="1159.8" cy="418.8" r="3.5"/>
<circle cx="1175.6" cy="419.5" r="3.5"/>
<circle cx="1175.1" cy="427" r="3.5"/>
<circle cx="1175.1" cy="432.4" r="3.5"/>
<circle cx="1154.3" cy="435.3" r="3.5"/>
<circle cx="1152.5" cy="448.8" r="3.5"/>
<circle cx="1152.5" cy="453.4" r="3.5"/>
<circle cx="1146.9" cy="460.1" r="3.5"/>
<circle cx="1153" cy="460.8" r="3.5"/>
<circle cx="1159.3" cy="461.3" r="3.5"/>
<circle cx="1169.5" cy="443.7" r="3.5"/>
<circle cx="1180.1" cy="447.7" r="3.5"/>
<circle cx="1188.6" cy="447.3" r="3.5"/>
<circle cx="1191.6" cy="445.9" r="3.5"/>
<circle cx="1189.3" cy="459" r="3.5"/>
<circle cx="1189.3" cy="462.4" r="3.5"/>
<circle cx="1195.9" cy="454.5" r="3.5"/>
<circle cx="1197.2" cy="453.4" r="3.5"/>
<circle cx="1204.9" cy="452.2" r="3.5"/>
<circle cx="1204.9" cy="455.6" r="3.5"/>
<circle cx="1213" cy="452.7" r="3.5"/>
<circle cx="1219.1" cy="447.7" r="3.5"/>
<circle cx="1219.8" cy="457.9" r="3.5"/>
<circle cx="1201.5" cy="433.5" r="3.5"/>
<circle cx="1210.1" cy="439.1" r="3.5"/>
<circle cx="1189.8" cy="400.8" r="3.5"/>
<circle cx="1198.1" cy="403.3" r="3.5"/>
<circle cx="1204.4" cy="406.6" r="3.5"/>
<circle cx="1210.1" cy="400.3" r="3.5"/>
<circle cx="1192.7" cy="412.7" r="3.5"/>
<circle cx="1206.3" cy="416.1" r="3.5"/>
<circle cx="1218.4" cy="416.6" r="3.5"/>
<circle cx="1393.9" cy="416.2" r="3.5"/>
<circle cx="1397.3" cy="423.9" r="3.5"/>
<circle cx="1398.8" cy="438.5" r="3.5"/>
<circle cx="1400.2" cy="444" r="3.5"/>
<circle cx="1398.2" cy="448.3" r="3.5"/>
<circle cx="1388.7" cy="458.3" r="3.5"/>
<circle cx="1388.7" cy="464.9" r="3.5"/>
<circle cx="1414.5" cy="405.3" r="3.5"/>
<circle cx="1417.4" cy="404.8" r="3.5"/>
<circle cx="1431.7" cy="426.8" r="3.5"/>
<circle cx="1413.6" cy="444.8" r="3.5"/>
<circle cx="1421.7" cy="455.7" r="3.5"/>
<circle cx="1423.1" cy="461.4" r="3.5"/>
<circle cx="1432.5" cy="456.8" r="3.5"/>
<circle cx="1445.1" cy="442.8" r="3.5"/>
<circle cx="1452.3" cy="434.2" r="3.5"/>
<circle cx="1454.6" cy="444" r="3.5"/>
<circle cx="1453.1" cy="461.1" r="3.5"/>
<circle cx="1483.2" cy="433.4" r="3.5"/>
<circle cx="1486.9" cy="425.4" r="3.5"/>
<circle cx="1483.2" cy="447.1" r="3.5"/>
<circle cx="1500.4" cy="419.6" r="3.5"/>
<circle cx="1506.1" cy="447.1" r="3.5"/>
<circle cx="1500.4" cy="454.3" r="3.5"/>
<circle cx="1498.9" cy="457.1" r="3.5"/>
<circle cx="1507.5" cy="452.8" r="3.5"/>
<circle cx="1517" cy="454.8" r="3.5"/>
<circle cx="1524.7" cy="426.8" r="3.5"/>
<circle cx="1543.3" cy="419.1" r="3.5"/>
<circle cx="1547" cy="444.8" r="3.5"/>
<circle cx="1551" cy="452" r="3.5"/>
<circle cx="1557.6" cy="424.8" r="3.5"/>
<circle cx="1581.9" cy="434.8" r="3.5"/>
</g>
<g fill="#4169e1" fill-opacity="0.85">
<circle cx="1237.6" cy="235.6" r="3.5"/>
<circle cx="1237.6" cy="237.9" r="3.5"/>
<circle cx="1376.4" cy="163.8" r="3.5"/>
<circle cx="1369.2" cy="280.8" r="3.5"/>
<circle cx="1229.3" cy="301.8" r="3.5"/>
<circle cx="1352.3" cy="297.7" r="3.5"/>
<circle cx="1363.6" cy="297.7" r="3.5"/>
<circle cx="1381.6" cy="296.6" r="3.5"/>
<circle cx="1384.5" cy="301.4" r="3.5"/>
<circle cx="1371.5" cy="306.3" r="3.5"/>
<circle cx="1349.5" cy="315" r="3.5"/>
<circle cx="1345.5" cy="320.3" r="3.5"/>
<circle cx="1354.2" cy="329.4" r="3.5"/>
<circle cx="1366.8" cy="331.4" r="3.5"/>
<circle cx="1245" cy="342.9" r="3.5"/>
<circle cx="1263.1" cy="346.3" r="3.5"/>
<circle cx="1234.9" cy="353.7" r="3.5"/>
<circle cx="1254.1" cy="353.7" r="3.5"/>
<circle cx="1257.5" cy="353" r="3.5"/>
<circle cx="1337.4" cy="360.7" r="3.5"/>
<circle cx="1334.3" cy="365" r="3.5"/>
<circle cx="1363.6" cy="362" r="3.5"/>
<circle cx="1361" cy="373.3" r="3.5"/>
<circle cx="1336" cy="373.3" r="3.5"/>
<circle cx="1341.5" cy="380.4" r="3.5"/>
<circle cx="1256.4" cy="379" r="3.5"/>
<circle cx="1254.1" cy="383.5" r="3.5"/>
<circle cx="1237.2" cy="376.7" r="3.5"/>
<circle cx="1345.2" cy="385" r="3.5"/>
<circle cx="1224.8" cy="390.7" r="3.5"/>
<circle cx="1250.7" cy="389.1" r="3.5"/>
<circle cx="1254.1" cy="393.7" r="3.5"/>
<circle cx="1263.1" cy="396.6" r="3.5"/>
<circle cx="1271.7" cy="391.4" r="3.5"/>
<circle cx="1369.8" cy="394" r="3.5"/>
<circle cx="1376" cy="390.8" r="3.5"/>
</g>
<g fill="#ee0000" fill-opacity="0.85">
<circle cx="1169.5" cy="302.2" r="3.5"/>
<circle cx="1151.9" cy="318" r="3.5"/>
<circle cx="1117.5" cy="328.9" r="3.5"/>
<circle cx="1109.6" cy="342.4" r="3.5"/>
<circle cx="1055.5" cy="384.9" r="3.5"/>
<circle cx="1167.9" cy="364.8" r="3.5"/>
<circle cx="1172.4" cy="376.3" r="3.5"/>
<circle cx="1183.7" cy="371.5" r="3.5"/>
<circle cx="1188.2" cy="371.5" r="3.5"/>
<circle cx="1198.1" cy="377.9" r="3.5"/>
<circle cx="1212.8" cy="375.6" r="3.5"/>
<circle cx="1221.4" cy="356.4" r="3.5"/>
<circle cx="1161.6" cy="384.6" r="3.5"/>
<circle cx="1403.6" cy="232.5" r="3.5"/>
<circle cx="1395.9" cy="376.7" r="3.5"/>
<circle cx="1422.5" cy="380.4" r="3.5"/>
<circle cx="1406.8" cy="391" r="3.5"/>
</g>
</g>
<g stroke="#333" stroke-width="1.8" stroke-dasharray="5.3 3.4" fill="none">
<line x1="1221.4" y1="19.5" x2="1221.4" y2="501.2"/>
<line x1="1385.2" y1="19.5" x2="1385.2" y2="501.2"/>
<line x1="997.9" y1="396.9" x2="1609.6" y2="396.9"/>
</g>
<g stroke="#1a1a1a" stroke-width="1" fill="#000">
<line x1="1155.9" y1="286.4" x2="1138.2" y2="270.5"/><polygon points="1134.5,267.2 1139.9,268.7 1136.6,272.4"/>
<line x1="1150.7" y1="314.7" x2="1141.1" y2="303.3"/><polygon points="1137.9,299.5 1143,301.7 1139.2,304.9"/>
<line x1="1114.2" y1="328.2" x2="1094.2" y2="323.3"/><polygon points="1089.3,322.1 1094.8,320.9 1093.6,325.7"/>
<line x1="1108.5" y1="342.9" x2="1093.1" y2="345.5"/><polygon points="1088.2,346.3 1092.7,343 1093.5,347.9"/>
<line x1="1055.5" y1="388" x2="1055.5" y2="395.4"/><polygon points="1055.5,400.4 1053,395.4 1058,395.4"/>
<line x1="1219.1" y1="353" x2="1226.5" y2="276.8"/><polygon points="1227,271.8 1229,277 1224,276.5"/>
<line x1="1174" y1="362" x2="1234.7" y2="303.5"/><polygon points="1238.3,300 1236.4,305.3 1233,301.7"/>
<line x1="1189.8" y1="365.4" x2="1229" y2="329.3"/><polygon points="1232.7,325.9 1230.7,331.1 1227.3,327.4"/>
<line x1="1201" y1="373.3" x2="1240.5" y2="355.1"/><polygon points="1245,353 1241.5,357.4 1239.4,352.8"/>
<line x1="1170.6" y1="386.9" x2="1223.1" y2="379.7"/><polygon points="1228.1,379 1223.5,382.2 1222.8,377.2"/>
<line x1="1426.8" y1="375.3" x2="1436.5" y2="367.3"/><polygon points="1440.3,364.1 1438,369.2 1434.9,365.4"/>
<line x1="1414.5" y1="389.6" x2="1433.3" y2="387.3"/><polygon points="1438.3,386.7 1433.6,389.8 1433,384.8"/>
</g>
<g font-family="'Liberation Serif', 'Times New Roman', serif" font-size="21.3" fill="#000">
<text x="1005.9" y="271.8">abu−miR−734</text>
<text x="1003.7" y="294.3">ccr−miR−133a−3p</text>
<text x="1004.3" y="317.4">abu−miR−725</text>
<text x="1002.5" y="362">gmo−miR−205−5p</text>
<text x="1004.3" y="415.1">ssa−miR−734−5p</text>
<text x="1226.7" y="266.1">ccr−miR−489</text>
<text x="1227.8" y="293.9">mze−miR−219b</text>
<text x="1229" y="322.1">abu−miR−7133−5p</text>
<text x="1229" y="348">abu−miR−7133−3p</text>
<text x="1229" y="381.2">dre−miR−182−5p</text>
<text x="1411.5" y="238.2">ssa−let−7f−5p</text>
<text x="1439.8" y="360.4">dre−miR−2187−5p</text>
<text x="1440.7" y="389.9">ipu−miR−7565</text>
</g>
<g stroke="#000" stroke-width="2.2" fill="none" stroke-linecap="butt">
<line x1="997.9" y1="39.2" x2="997.9" y2="502.3"/>
<line x1="996.8" y1="501.2" x2="1609.6" y2="501.2"/>
<line x1="1139.5" y1="501.2" x2="1139.5" y2="508.4"/>
<line x1="1303.3" y1="501.2" x2="1303.3" y2="508.4"/>
<line x1="1467.1" y1="501.2" x2="1467.1" y2="508.4"/>
<line x1="990.9" y1="472" x2="997.9" y2="472"/>
<line x1="990.9" y1="327.8" x2="997.9" y2="327.8"/>
<line x1="990.9" y1="183.5" x2="997.9" y2="183.5"/>
<line x1="990.9" y1="39.2" x2="997.9" y2="39.2"/>
</g>
<g font-family="'Liberation Serif', 'Times New Roman', serif" font-size="19.5" fill="#1e1e1e">
<text x="1139.5" y="529.2" text-anchor="middle">−2</text>
<text x="1303.3" y="529.2" text-anchor="middle">0</text>
<text x="1467.1" y="529.2" text-anchor="middle">2</text>
<text x="980.5" y="478.6" text-anchor="end">0.0</text>
<text x="980.5" y="334.4" text-anchor="end">2.5</text>
<text x="980.5" y="190.1" text-anchor="end">5.0</text>
<text x="980.5" y="45.9" text-anchor="end">7.5</text>
</g>
<text x="1223.7" y="50.6" font-family="'Liberation Serif', 'Times New Roman', serif" font-weight="bold" font-size="38.4" fill="#000">CT−vs−LT15</text>
<text x="1188.9" y="559.2" font-family="'Liberation Serif', 'Times New Roman', serif" font-size="32" fill="#000">Log2 fold change</text>
<text x="1429.2" y="560.2" font-family="'Liberation Serif', 'Times New Roman', serif" font-size="20.9" fill="#000">(Total = 759 variables)</text>
<text transform="translate(942.4,277.2) rotate(-90)" text-anchor="middle" font-family="'Liberation Serif', 'Times New Roman', serif" font-size="32" fill="#000">−Log10(P-value)</text>
<text x="914" y="27.8" font-family="'Liberation Sans', Arial, sans-serif" font-weight="bold" font-size="30.5" fill="#000">B</text>
<circle cx="1637.7" cy="254.5" r="7.4" fill="#4d4d4d" fill-opacity="0.85"/>
<text x="1661" y="259.9" font-family="'Liberation Serif', 'Times New Roman', serif" font-size="19.2" fill="#000">NS</text>
<circle cx="1637.7" cy="271.7" r="7.4" fill="#228b22" fill-opacity="0.85"/>
<text x="1661" y="277.1" font-family="'Liberation Serif', 'Times New Roman', serif" font-size="19.2" fill="#000">Log2 FC</text>
<circle cx="1637.7" cy="289.7" r="7.4" fill="#4169e1" fill-opacity="0.85"/>
<text x="1661" y="295.1" font-family="'Liberation Serif', 'Times New Roman', serif" font-size="19.2" fill="#000">P</text>
<circle cx="1637.7" cy="307.4" r="7.4" fill="#ee0000" fill-opacity="0.85"/>
<text x="1661" y="312.8" font-family="'Liberation Serif', 'Times New Roman', serif" font-size="19.2" fill="#000">P &amp; Log2 FC</text></g>
<g id="panelC"><g stroke="#ebebeb" stroke-width="1.6" fill="none">
<line x1="81.3" y1="1115.3" x2="703" y2="1115.3"/>
<line x1="81.3" y1="942.8" x2="703" y2="942.8"/>
<line x1="81.3" y1="770.3" x2="703" y2="770.3"/>
<line x1="81.3" y1="1029" x2="703" y2="1029"/>
<line x1="81.3" y1="856.5" x2="703" y2="856.5"/>
<line x1="81.3" y1="684" x2="703" y2="684"/>
<line x1="217.5" y1="636.7" x2="217.5" y2="1144.8"/>
<line x1="379" y1="636.7" x2="379" y2="1144.8"/>
<line x1="540.5" y1="636.7" x2="540.5" y2="1144.8"/>
<line x1="702" y1="636.7" x2="702" y2="1144.8"/>
<line x1="136.8" y1="636.7" x2="136.8" y2="1144.8"/>
<line x1="298.2" y1="636.7" x2="298.2" y2="1144.8"/>
<line x1="459.8" y1="636.7" x2="459.8" y2="1144.8"/>
<line x1="621.2" y1="636.7" x2="621.2" y2="1144.8"/>
</g>
<g>
<g fill="#4d4d4d" fill-opacity="0.9">
<circle cx="398.2" cy="1110.5" r="3.5"/>
<circle cx="407.4" cy="1049" r="3.5"/>
<circle cx="333.7" cy="1063.4" r="3.5"/>
<circle cx="362.4" cy="1100.2" r="3.5"/>
<circle cx="398.1" cy="1058.1" r="3.5"/>
<circle cx="336.8" cy="1044.1" r="3.5"/>
<circle cx="390.5" cy="1094.9" r="3.5"/>
<circle cx="410.4" cy="1081.9" r="3.5"/>
<circle cx="318.5" cy="1075" r="3.5"/>
<circle cx="338.9" cy="1108.1" r="3.5"/>
<circle cx="315.2" cy="1036.1" r="3.5"/>
<circle cx="366.1" cy="1104.1" r="3.5"/>
<circle cx="392" cy="1113" r="3.5"/>
<circle cx="421" cy="1108.9" r="3.5"/>
<circle cx="401.4" cy="1096.8" r="3.5"/>
<circle cx="332.9" cy="1087.7" r="3.5"/>
<circle cx="398" cy="1101.1" r="3.5"/>
<circle cx="406.8" cy="1055.9" r="3.5"/>
<circle cx="393.7" cy="1096.5" r="3.5"/>
<circle cx="401.7" cy="1093.5" r="3.5"/>
<circle cx="316.9" cy="1080.1" r="3.5"/>
<circle cx="403.5" cy="1059.5" r="3.5"/>
<circle cx="393.6" cy="1100.8" r="3.5"/>
<circle cx="419.3" cy="1049.6" r="3.5"/>
<circle cx="337.3" cy="1061.6" r="3.5"/>
<circle cx="421.4" cy="1082.2" r="3.5"/>
<circle cx="398.8" cy="1083" r="3.5"/>
<circle cx="345.6" cy="1096.8" r="3.5"/>
<circle cx="315.2" cy="1058.1" r="3.5"/>
<circle cx="333.8" cy="1094.5" r="3.5"/>
<circle cx="401.7" cy="1083" r="3.5"/>
<circle cx="414.2" cy="1059.8" r="3.5"/>
<circle cx="394.4" cy="1077.2" r="3.5"/>
<circle cx="422.7" cy="1074.2" r="3.5"/>
<circle cx="395.5" cy="1111.9" r="3.5"/>
<circle cx="367.6" cy="1089.8" r="3.5"/>
<circle cx="410.9" cy="1083.9" r="3.5"/>
<circle cx="403.8" cy="1056.1" r="3.5"/>
<circle cx="430.3" cy="1109.8" r="3.5"/>
<circle cx="359.3" cy="1099.3" r="3.5"/>
<circle cx="405.4" cy="1067.5" r="3.5"/>
<circle cx="401.2" cy="1108.6" r="3.5"/>
<circle cx="321.9" cy="1042.9" r="3.5"/>
<circle cx="364.8" cy="1110.7" r="3.5"/>
<circle cx="401" cy="1110.6" r="3.5"/>
<circle cx="361.1" cy="1096.3" r="3.5"/>
<circle cx="343.1" cy="1062.3" r="3.5"/>
<circle cx="337.2" cy="1079.3" r="3.5"/>
<circle cx="414.2" cy="1099.6" r="3.5"/>
<circle cx="359.3" cy="1093.3" r="3.5"/>
<circle cx="398" cy="1103.1" r="3.5"/>
<circle cx="345" cy="1100.2" r="3.5"/>
<circle cx="358.2" cy="1068.8" r="3.5"/>
<circle cx="398.1" cy="1097.1" r="3.5"/>
<circle cx="405.4" cy="1071.3" r="3.5"/>
<circle cx="405.4" cy="1066" r="3.5"/>
<circle cx="395.5" cy="1103.8" r="3.5"/>
<circle cx="410.8" cy="1066.1" r="3.5"/>
<circle cx="365.4" cy="1111.4" r="3.5"/>
<circle cx="371.6" cy="1110.2" r="3.5"/>
<circle cx="367.5" cy="1106" r="3.5"/>
<circle cx="403.6" cy="1073.9" r="3.5"/>
<circle cx="391.1" cy="1103.9" r="3.5"/>
<circle cx="405.3" cy="1096.3" r="3.5"/>
<circle cx="397.7" cy="1087.3" r="3.5"/>
<circle cx="370.3" cy="1106.6" r="3.5"/>
<circle cx="359.7" cy="1103.8" r="3.5"/>
<circle cx="327" cy="1104.3" r="3.5"/>
<circle cx="403.7" cy="1090.5" r="3.5"/>
<circle cx="377.9" cy="1113.7" r="3.5"/>
<circle cx="372.3" cy="1111.7" r="3.5"/>
<circle cx="363" cy="1093.4" r="3.5"/>
<circle cx="394.4" cy="1094.4" r="3.5"/>
<circle cx="358.1" cy="1089.9" r="3.5"/>
<circle cx="343.7" cy="1060.2" r="3.5"/>
<circle cx="415.1" cy="1038.2" r="3.5"/>
<circle cx="372.7" cy="1113.1" r="3.5"/>
<circle cx="390.5" cy="1111" r="3.5"/>
<circle cx="408.2" cy="1062.3" r="3.5"/>
<circle cx="332.7" cy="1066.3" r="3.5"/>
<circle cx="364.9" cy="1106.5" r="3.5"/>
<circle cx="327.9" cy="1049.6" r="3.5"/>
<circle cx="349" cy="1045.4" r="3.5"/>
<circle cx="382.3" cy="1113.6" r="3.5"/>
<circle cx="385.4" cy="1107" r="3.5"/>
<circle cx="344" cy="1075" r="3.5"/>
<circle cx="406.6" cy="1106.4" r="3.5"/>
<circle cx="336.3" cy="1056.4" r="3.5"/>
<circle cx="413.4" cy="1032.3" r="3.5"/>
<circle cx="354.1" cy="1042" r="3.5"/>
<circle cx="340.6" cy="1098.7" r="3.5"/>
<circle cx="397.3" cy="1050.5" r="3.5"/>
<circle cx="409.7" cy="1071.2" r="3.5"/>
<circle cx="406.6" cy="1105.4" r="3.5"/>
<circle cx="358.3" cy="1082.9" r="3.5"/>
<circle cx="407" cy="1099.6" r="3.5"/>
<circle cx="362.6" cy="1078.6" r="3.5"/>
<circle cx="406.4" cy="1089.7" r="3.5"/>
<circle cx="330.4" cy="1036.9" r="3.5"/>
<circle cx="315.2" cy="1103" r="3.5"/>
<circle cx="425.2" cy="1097.9" r="3.5"/>
<circle cx="396.2" cy="1110.2" r="3.5"/>
<circle cx="406.6" cy="1041.7" r="3.5"/>
<circle cx="429.5" cy="1105.5" r="3.5"/>
<circle cx="406.3" cy="1058.9" r="3.5"/>
<circle cx="397.3" cy="1070.5" r="3.5"/>
<circle cx="321.1" cy="1052.2" r="3.5"/>
<circle cx="400.6" cy="1108.7" r="3.5"/>
<circle cx="401.8" cy="1082" r="3.5"/>
<circle cx="354.1" cy="1059" r="3.5"/>
<circle cx="356" cy="1093.6" r="3.5"/>
<circle cx="387.3" cy="1102.6" r="3.5"/>
<circle cx="412.1" cy="1070.8" r="3.5"/>
<circle cx="400.7" cy="1077.5" r="3.5"/>
<circle cx="404.9" cy="1092.6" r="3.5"/>
<circle cx="338.9" cy="1087.7" r="3.5"/>
<circle cx="346.5" cy="1052.2" r="3.5"/>
<circle cx="362.3" cy="1079.8" r="3.5"/>
<circle cx="358.5" cy="1097.8" r="3.5"/>
<circle cx="393.8" cy="1080.4" r="3.5"/>
<circle cx="408" cy="1077" r="3.5"/>
<circle cx="394.7" cy="1111.4" r="3.5"/>
<circle cx="421.9" cy="1070.8" r="3.5"/>
<circle cx="405.2" cy="1060.6" r="3.5"/>
<circle cx="405.5" cy="1077.4" r="3.5"/>
<circle cx="344.2" cy="1090.2" r="3.5"/>
<circle cx="352.4" cy="1065.7" r="3.5"/>
<circle cx="331.2" cy="1063.2" r="3.5"/>
<circle cx="355.3" cy="1103.4" r="3.5"/>
<circle cx="400.3" cy="1100.3" r="3.5"/>
<circle cx="388.2" cy="1112.2" r="3.5"/>
<circle cx="349.9" cy="1105.5" r="3.5"/>
<circle cx="367.3" cy="1100.2" r="3.5"/>
<circle cx="358.6" cy="1074.9" r="3.5"/>
<circle cx="332.1" cy="1077.6" r="3.5"/>
<circle cx="395.3" cy="1089.7" r="3.5"/>
<circle cx="390.5" cy="1109" r="3.5"/>
<circle cx="370.8" cy="1102.3" r="3.5"/>
<circle cx="352.4" cy="1028.9" r="3.5"/>
<circle cx="410.9" cy="1094.1" r="3.5"/>
<circle cx="356.7" cy="1028.5" r="3.5"/>
<circle cx="368" cy="1096" r="3.5"/>
<circle cx="405.4" cy="1102.6" r="3.5"/>
<circle cx="393.8" cy="1087.1" r="3.5"/>
<circle cx="322.8" cy="1071.7" r="3.5"/>
<circle cx="363" cy="1107.3" r="3.5"/>
<circle cx="393.8" cy="1083.5" r="3.5"/>
<circle cx="339" cy="1097.7" r="3.5"/>
<circle cx="352.6" cy="1094.7" r="3.5"/>
<circle cx="411.7" cy="1090.9" r="3.5"/>
<circle cx="324.1" cy="1094.9" r="3.5"/>
<circle cx="402.1" cy="1105.6" r="3.5"/>
<circle cx="345.5" cy="1061.9" r="3.5"/>
<circle cx="417.6" cy="1043.7" r="3.5"/>
<circle cx="350.7" cy="1033.5" r="3.5"/>
<circle cx="404.6" cy="1100.8" r="3.5"/>
<circle cx="395.2" cy="1106.7" r="3.5"/>
<circle cx="411.3" cy="1096.7" r="3.5"/>
<circle cx="436.2" cy="1101.3" r="3.5"/>
<circle cx="403.3" cy="1107.5" r="3.5"/>
<circle cx="391.9" cy="1107.3" r="3.5"/>
<circle cx="397.3" cy="1091.2" r="3.5"/>
<circle cx="359.1" cy="1080.9" r="3.5"/>
<circle cx="313.5" cy="1108.1" r="3.5"/>
<circle cx="362.1" cy="1083.2" r="3.5"/>
<circle cx="358.3" cy="1046.2" r="3.5"/>
<circle cx="368.3" cy="1112.2" r="3.5"/>
<circle cx="400.6" cy="1069.2" r="3.5"/>
<circle cx="404.6" cy="1053" r="3.5"/>
<circle cx="389.4" cy="1106.4" r="3.5"/>
<circle cx="406.5" cy="1068.1" r="3.5"/>
<circle cx="362.9" cy="1102.7" r="3.5"/>
<circle cx="411.6" cy="1077.5" r="3.5"/>
<circle cx="358.5" cy="1077.8" r="3.5"/>
<circle cx="415.1" cy="1063.2" r="3.5"/>
<circle cx="319.8" cy="1036.5" r="3.5"/>
<circle cx="401.4" cy="1086.3" r="3.5"/>
<circle cx="364.7" cy="1083.8" r="3.5"/>
<circle cx="373.6" cy="1110.1" r="3.5"/>
<circle cx="349.3" cy="1086.1" r="3.5"/>
<circle cx="364.4" cy="1097.1" r="3.5"/>
<circle cx="367.7" cy="1108.8" r="3.5"/>
<circle cx="318.5" cy="1049.6" r="3.5"/>
<circle cx="399" cy="1093.9" r="3.5"/>
<circle cx="353.3" cy="1108.1" r="3.5"/>
<circle cx="333.9" cy="1090.3" r="3.5"/>
<circle cx="334.6" cy="1104.7" r="3.5"/>
<circle cx="374.9" cy="1111.5" r="3.5"/>
<circle cx="366.1" cy="1094.2" r="3.5"/>
<circle cx="340" cy="1096.2" r="3.5"/>
<circle cx="393.5" cy="1110.5" r="3.5"/>
<circle cx="349.6" cy="1098.1" r="3.5"/>
<circle cx="347.3" cy="1100.9" r="3.5"/>
<circle cx="334.4" cy="1095.8" r="3.5"/>
<circle cx="338.7" cy="1058.2" r="3.5"/>
<circle cx="367.3" cy="1103.1" r="3.5"/>
<circle cx="388.1" cy="1113.5" r="3.5"/>
<circle cx="398.9" cy="1079.9" r="3.5"/>
<circle cx="385.4" cy="1111.8" r="3.5"/>
<circle cx="347.3" cy="1084.4" r="3.5"/>
<circle cx="433.7" cy="1089.4" r="3.5"/>
<circle cx="366.2" cy="1091.6" r="3.5"/>
<circle cx="346.1" cy="1086.6" r="3.5"/>
<circle cx="327.4" cy="1053.9" r="3.5"/>
<circle cx="383" cy="1112.9" r="3.5"/>
<circle cx="390.3" cy="1095.7" r="3.5"/>
<circle cx="370.6" cy="1111.8" r="3.5"/>
<circle cx="362.7" cy="1087.7" r="3.5"/>
<circle cx="359.5" cy="1071.8" r="3.5"/>
<circle cx="355.3" cy="1099.3" r="3.5"/>
<circle cx="321.1" cy="1108.9" r="3.5"/>
<circle cx="346.5" cy="1097.9" r="3.5"/>
<circle cx="364.7" cy="1086.5" r="3.5"/>
<circle cx="397.2" cy="1106.8" r="3.5"/>
<circle cx="401.1" cy="1102.7" r="3.5"/>
<circle cx="422.7" cy="1101.3" r="3.5"/>
<circle cx="415.1" cy="1094.5" r="3.5"/>
<circle cx="342.3" cy="1032.7" r="3.5"/>
<circle cx="403.3" cy="1084.3" r="3.5"/>
<circle cx="355.5" cy="1086.4" r="3.5"/>
<circle cx="338.9" cy="1059.8" r="3.5"/>
<circle cx="367.3" cy="1092.8" r="3.5"/>
<circle cx="345.7" cy="1058.4" r="3.5"/>
<circle cx="385.8" cy="1110.6" r="3.5"/>
<circle cx="370.9" cy="1100.7" r="3.5"/>
<circle cx="406.9" cy="1064.7" r="3.5"/>
<circle cx="324.5" cy="1041.2" r="3.5"/>
<circle cx="401.3" cy="1070.9" r="3.5"/>
<circle cx="374.2" cy="1112.4" r="3.5"/>
<circle cx="396.9" cy="1074.7" r="3.5"/>
<circle cx="365.1" cy="1100.2" r="3.5"/>
<circle cx="349" cy="1059.8" r="3.5"/>
<circle cx="417.6" cy="1104.7" r="3.5"/>
<circle cx="343.9" cy="1066.1" r="3.5"/>
<circle cx="368.9" cy="1111" r="3.5"/>
<circle cx="410.3" cy="1074.9" r="3.5"/>
<circle cx="391.5" cy="1099.9" r="3.5"/>
<circle cx="359.2" cy="1110.6" r="3.5"/>
<circle cx="402.3" cy="1059.5" r="3.5"/>
<circle cx="387.7" cy="1101.1" r="3.5"/>
<circle cx="400.4" cy="1074.2" r="3.5"/>
<circle cx="407.8" cy="1083.6" r="3.5"/>
<circle cx="406.5" cy="1097.2" r="3.5"/>
<circle cx="438.8" cy="1098.7" r="3.5"/>
<circle cx="399" cy="1077.2" r="3.5"/>
<circle cx="438.8" cy="1108.9" r="3.5"/>
<circle cx="399.9" cy="1064.2" r="3.5"/>
<circle cx="327" cy="1083.5" r="3.5"/>
<circle cx="355.1" cy="1089.3" r="3.5"/>
<circle cx="406.3" cy="1102.7" r="3.5"/>
<circle cx="404.8" cy="1049.2" r="3.5"/>
<circle cx="404.9" cy="1087.3" r="3.5"/>
<circle cx="407.8" cy="1073.8" r="3.5"/>
<circle cx="401.1" cy="1091.5" r="3.5"/>
</g>
<g fill="#228b22" fill-opacity="0.85">
<circle cx="110.2" cy="1044.7" r="3.5"/>
<circle cx="239.3" cy="1041.8" r="3.5"/>
<circle cx="276.5" cy="1040.6" r="3.5"/>
<circle cx="279.9" cy="1028.2" r="3.5"/>
<circle cx="290.8" cy="1035.4" r="3.5"/>
<circle cx="293" cy="1041.8" r="3.5"/>
<circle cx="305.9" cy="1028.2" r="3.5"/>
<circle cx="313.3" cy="1036.1" r="3.5"/>
<circle cx="260.7" cy="1058.2" r="3.5"/>
<circle cx="259.2" cy="1062.8" r="3.5"/>
<circle cx="262.3" cy="1061.4" r="3.5"/>
<circle cx="237.5" cy="1067.7" r="3.5"/>
<circle cx="264.6" cy="1069.5" r="3.5"/>
<circle cx="274.3" cy="1070.7" r="3.5"/>
<circle cx="288.3" cy="1073.8" r="3.5"/>
<circle cx="301.8" cy="1067.7" r="3.5"/>
<circle cx="307" cy="1064.3" r="3.5"/>
<circle cx="312" cy="1065.9" r="3.5"/>
<circle cx="174.5" cy="1079" r="3.5"/>
<circle cx="193" cy="1078.3" r="3.5"/>
<circle cx="200.2" cy="1071.8" r="3.5"/>
<circle cx="218.3" cy="1072.2" r="3.5"/>
<circle cx="219.4" cy="1081.7" r="3.5"/>
<circle cx="230.7" cy="1084.7" r="3.5"/>
<circle cx="194.8" cy="1093" r="3.5"/>
<circle cx="216" cy="1093" r="3.5"/>
<circle cx="255.6" cy="1093" r="3.5"/>
<circle cx="249.9" cy="1101.1" r="3.5"/>
<circle cx="255.6" cy="1102" r="3.5"/>
<circle cx="260.1" cy="1102.7" r="3.5"/>
<circle cx="275.4" cy="1093.7" r="3.5"/>
<circle cx="281.1" cy="1097.5" r="3.5"/>
<circle cx="283.3" cy="1101.1" r="3.5"/>
<circle cx="285.6" cy="1103.8" r="3.5"/>
<circle cx="286.3" cy="1085.1" r="3.5"/>
<circle cx="294.2" cy="1100.9" r="3.5"/>
<circle cx="299.1" cy="1091.9" r="3.5"/>
<circle cx="304.8" cy="1083.5" r="3.5"/>
<circle cx="311.5" cy="1089.2" r="3.5"/>
<circle cx="313.3" cy="1107.9" r="3.5"/>
<circle cx="604" cy="1026.7" r="3.5"/>
<circle cx="675" cy="1026" r="3.5"/>
<circle cx="454.6" cy="1052.4" r="3.5"/>
<circle cx="459.7" cy="1051.1" r="3.5"/>
<circle cx="461.9" cy="1047.9" r="3.5"/>
<circle cx="458.7" cy="1070" r="3.5"/>
<circle cx="469.3" cy="1070.4" r="3.5"/>
<circle cx="466.1" cy="1077.4" r="3.5"/>
<circle cx="471.6" cy="1087.1" r="3.5"/>
<circle cx="480.3" cy="1090.9" r="3.5"/>
<circle cx="444.3" cy="1090.9" r="3.5"/>
<circle cx="451.3" cy="1088" r="3.5"/>
<circle cx="452.3" cy="1096.1" r="3.5"/>
<circle cx="446.8" cy="1102.2" r="3.5"/>
<circle cx="461.9" cy="1096.7" r="3.5"/>
<circle cx="464.2" cy="1094.5" r="3.5"/>
<circle cx="473.2" cy="1100.9" r="3.5"/>
<circle cx="476.4" cy="1103.1" r="3.5"/>
<circle cx="491.8" cy="1103.1" r="3.5"/>
<circle cx="495.7" cy="1102.5" r="3.5"/>
<circle cx="500.5" cy="1101.9" r="3.5"/>
<circle cx="509.2" cy="1072" r="3.5"/>
<circle cx="508.5" cy="1081.3" r="3.5"/>
<circle cx="511.7" cy="1080" r="3.5"/>
<circle cx="523.6" cy="1085.5" r="3.5"/>
<circle cx="535.8" cy="1075.2" r="3.5"/>
<circle cx="554.5" cy="1075.8" r="3.5"/>
<circle cx="567.3" cy="1070" r="3.5"/>
<circle cx="574.4" cy="1063" r="3.5"/>
<circle cx="559" cy="1088" r="3.5"/>
<circle cx="563.2" cy="1087.1" r="3.5"/>
<circle cx="565.7" cy="1086.1" r="3.5"/>
<circle cx="602.7" cy="1083.2" r="3.5"/>
</g>
<g fill="#4169e1" fill-opacity="0.85">
<circle cx="427.8" cy="901" r="3.5"/>
<circle cx="417.6" cy="940.5" r="3.5"/>
<circle cx="432.3" cy="946.1" r="3.5"/>
<circle cx="435.7" cy="952.2" r="3.5"/>
<circle cx="423.3" cy="959.6" r="3.5"/>
<circle cx="425.5" cy="963" r="3.5"/>
<circle cx="347.2" cy="967.5" r="3.5"/>
<circle cx="334.1" cy="995.8" r="3.5"/>
<circle cx="337.5" cy="994.6" r="3.5"/>
<circle cx="335.2" cy="999.1" r="3.5"/>
<circle cx="344.3" cy="1001.4" r="3.5"/>
<circle cx="354" cy="1005.9" r="3.5"/>
<circle cx="327.3" cy="1007" r="3.5"/>
<circle cx="321.7" cy="1013.8" r="3.5"/>
<circle cx="329.6" cy="1013.8" r="3.5"/>
<circle cx="335.9" cy="1011.6" r="3.5"/>
<circle cx="345" cy="1011.6" r="3.5"/>
<circle cx="321.7" cy="1021.7" r="3.5"/>
<circle cx="407.5" cy="1009.7" r="3.5"/>
<circle cx="414.2" cy="1012" r="3.5"/>
<circle cx="424.4" cy="1013.1" r="3.5"/>
<circle cx="433.4" cy="1010.9" r="3.5"/>
<circle cx="436.8" cy="1020.6" r="3.5"/>
<circle cx="414.9" cy="1020.6" r="3.5"/>
<circle cx="415.4" cy="1022.4" r="3.5"/>
</g>
<g fill="#ee0000" fill-opacity="0.85">
<circle cx="279.5" cy="868.2" r="3.5"/>
<circle cx="446.5" cy="863.7" r="3.5"/>
<circle cx="109.5" cy="975" r="3.5"/>
<circle cx="239.3" cy="999.8" r="3.5"/>
<circle cx="249.9" cy="1003.7" r="3.5"/>
<circle cx="266.4" cy="1003" r="3.5"/>
<circle cx="286" cy="1008.8" r="3.5"/>
<circle cx="299.1" cy="1001.9" r="3.5"/>
<circle cx="298.7" cy="1012" r="3.5"/>
<circle cx="304.1" cy="1019" r="3.5"/>
<circle cx="308.6" cy="1024.6" r="3.5"/>
<circle cx="235.9" cy="1019.5" r="3.5"/>
</g>
</g>
<g stroke="#333" stroke-width="1.8" stroke-dasharray="5.3 3.4" fill="none">
<line x1="314.4" y1="638" x2="314.4" y2="1144.8"/>
<line x1="443.6" y1="638" x2="443.6" y2="1144.8"/>
<line x1="81.3" y1="1025.5" x2="703" y2="1025.5"/>
</g>
<g stroke="#1a1a1a" stroke-width="1" fill="#000">
<line x1="285.6" y1="869.3" x2="289.8" y2="869.3"/><polygon points="295.3,869.3 289.8,872 289.8,866.5"/>
<line x1="115.1" y1="975.9" x2="122.7" y2="975.9"/><polygon points="128.2,975.9 122.7,978.6 122.7,973.1"/>
<line x1="233.7" y1="999.8" x2="228.5" y2="999.8"/><polygon points="223,999.8 228.5,997 228.5,1002.5"/>
<line x1="231.4" y1="1021.7" x2="216.7" y2="1036"/><polygon points="212.7,1039.8 214.7,1034 218.6,1038"/>
<line x1="288.5" y1="1005.5" x2="319" y2="908"/><polygon points="320.6,902.8 321.6,908.9 316.3,907.2"/>
<line x1="300.7" y1="996.4" x2="319" y2="936.7"/><polygon points="320.6,931.4 321.6,937.5 316.4,935.9"/>
<line x1="305.2" y1="1014.9" x2="318.5" y2="972.2"/><polygon points="320.1,966.9 321.1,973 315.8,971.3"/>
<line x1="311.1" y1="1018.3" x2="319.8" y2="994.6"/><polygon points="321.7,989.4 322.4,995.5 317.2,993.6"/>
</g>
<g font-family="'Liberation Serif', 'Times New Roman', serif" font-size="21.3" fill="#000">
<text x="297.4" y="873.9">ccr−miR−489</text>
<text x="460.9" y="876.6">ssa−miR−33a−3p</text>
<text x="324.1" y="905.5">abu−miR−7133−5p</text>
<text x="325.7" y="932.1">dre−miR−19c−3p</text>
<text x="321.8" y="964.2">oni−miR−144b</text>
<text x="323.4" y="989">ola−miR−144</text>
<text x="128.1" y="980.4">gmo−miR−19d−5p</text>
<text x="96.5" y="1007.5">abu−miR−725</text>
<text x="131.1" y="1046.5">novel_44</text>
</g>
<g stroke="#000" stroke-width="2.2" fill="none" stroke-linecap="butt">
<line x1="81.3" y1="636.7" x2="81.3" y2="1145.9"/>
<line x1="80.2" y1="1144.8" x2="703" y2="1144.8"/>
<line x1="217.5" y1="1144.8" x2="217.5" y2="1152"/>
<line x1="379" y1="1144.8" x2="379" y2="1152"/>
<line x1="540.5" y1="1144.8" x2="540.5" y2="1152"/>
<line x1="702" y1="1144.8" x2="702" y2="1152"/>
<line x1="74.3" y1="1115.3" x2="81.3" y2="1115.3"/>
<line x1="74.3" y1="942.8" x2="81.3" y2="942.8"/>
<line x1="74.3" y1="770.3" x2="81.3" y2="770.3"/>
</g>
<g font-family="'Liberation Serif', 'Times New Roman', serif" font-size="19.5" fill="#1e1e1e">
<text x="217.5" y="1173" text-anchor="middle">−2.5</text>
<text x="379" y="1173" text-anchor="middle">0.0</text>
<text x="540.5" y="1173" text-anchor="middle">2.5</text>
<text x="702" y="1173" text-anchor="middle">5.0</text>
<text x="63.8" y="1121.9" text-anchor="end">0.0</text>
<text x="63.8" y="949.4" text-anchor="end">2.5</text>
<text x="63.8" y="776.9" text-anchor="end">5.0</text>
</g>
<text x="284.7" y="667.1" font-family="'Liberation Serif', 'Times New Roman', serif" font-weight="bold" font-size="38.4" fill="#000">CT−vs−LT12</text>
<text x="288" y="1212.2" font-family="'Liberation Serif', 'Times New Roman', serif" font-size="32" fill="#000">Log2 fold change</text>
<text x="529.9" y="1213.4" font-family="'Liberation Serif', 'Times New Roman', serif" font-size="20.9" fill="#000">(Total = 759 variables)</text>
<text transform="translate(29.3,903.4) rotate(-90)" text-anchor="middle" font-family="'Liberation Serif', 'Times New Roman', serif" font-size="32" fill="#000">−Log10(P-value)</text>
<text x="4" y="644.3" font-family="'Liberation Sans', Arial, sans-serif" font-weight="bold" font-size="30.5" fill="#000">C</text>
<circle cx="718.4" cy="871.1" r="7.4" fill="#4d4d4d" fill-opacity="0.85"/>
<text x="730.7" y="876.5" font-family="'Liberation Serif', 'Times New Roman', serif" font-size="19.2" fill="#000">NS</text>
<circle cx="718.4" cy="888.8" r="7.4" fill="#228b22" fill-opacity="0.85"/>
<text x="730.7" y="894.2" font-family="'Liberation Serif', 'Times New Roman', serif" font-size="19.2" fill="#000">Log2 FC</text>
<circle cx="718.4" cy="907.1" r="7.4" fill="#4169e1" fill-opacity="0.85"/>
<text x="730.7" y="912.5" font-family="'Liberation Serif', 'Times New Roman', serif" font-size="19.2" fill="#000">P</text>
<circle cx="718.4" cy="924.8" r="7.4" fill="#ee0000" fill-opacity="0.85"/>
<text x="730.7" y="930.2" font-family="'Liberation Serif', 'Times New Roman', serif" font-size="19.2" fill="#000">P &amp; Log2 FC</text></g>
<g id="panelD"><g stroke="#ebebeb" stroke-width="1.6" fill="none">
<line x1="1009" y1="1117.3" x2="1619.3" y2="1117.3"/>
<line x1="1009" y1="972.5" x2="1619.3" y2="972.5"/>
<line x1="1009" y1="827.8" x2="1619.3" y2="827.8"/>
<line x1="1009" y1="1044.9" x2="1619.3" y2="1044.9"/>
<line x1="1009" y1="900.2" x2="1619.3" y2="900.2"/>
<line x1="1009" y1="755.4" x2="1619.3" y2="755.4"/>
<line x1="1095.8" y1="641.7" x2="1095.8" y2="1146.8"/>
<line x1="1230.8" y1="641.7" x2="1230.8" y2="1146.8"/>
<line x1="1365.8" y1="641.7" x2="1365.8" y2="1146.8"/>
<line x1="1500.8" y1="641.7" x2="1500.8" y2="1146.8"/>
<line x1="1028.3" y1="641.7" x2="1028.3" y2="1146.8"/>
<line x1="1163.3" y1="641.7" x2="1163.3" y2="1146.8"/>
<line x1="1298.3" y1="641.7" x2="1298.3" y2="1146.8"/>
<line x1="1433.3" y1="641.7" x2="1433.3" y2="1146.8"/>
<line x1="1568.3" y1="641.7" x2="1568.3" y2="1146.8"/>
</g>
<g>
<g fill="#4d4d4d" fill-opacity="0.9">
<circle cx="1329.3" cy="1056" r="3.5"/>
<circle cx="1346.2" cy="1106.8" r="3.5"/>
<circle cx="1352.6" cy="1090.8" r="3.5"/>
<circle cx="1404.9" cy="1101.8" r="3.5"/>
<circle cx="1412.3" cy="1059.7" r="3.5"/>
<circle cx="1400.5" cy="1064.4" r="3.5"/>
<circle cx="1378.5" cy="1109.8" r="3.5"/>
<circle cx="1408.6" cy="1052.6" r="3.5"/>
<circle cx="1357.1" cy="1105.4" r="3.5"/>
<circle cx="1317.4" cy="1055.3" r="3.5"/>
<circle cx="1392.4" cy="1065.8" r="3.5"/>
<circle cx="1374.9" cy="1113.4" r="3.5"/>
<circle cx="1394.6" cy="1100" r="3.5"/>
<circle cx="1358.2" cy="1116.2" r="3.5"/>
<circle cx="1392.4" cy="1082.7" r="3.5"/>
<circle cx="1352.8" cy="1114.1" r="3.5"/>
<circle cx="1417.4" cy="1084.9" r="3.5"/>
<circle cx="1315.4" cy="1091.6" r="3.5"/>
<circle cx="1349.1" cy="1096.9" r="3.5"/>
<circle cx="1333.3" cy="1064.6" r="3.5"/>
<circle cx="1322" cy="1076.1" r="3.5"/>
<circle cx="1320" cy="1080.8" r="3.5"/>
<circle cx="1408.6" cy="1093.7" r="3.5"/>
<circle cx="1350" cy="1114.1" r="3.5"/>
<circle cx="1320.5" cy="1104" r="3.5"/>
<circle cx="1394.9" cy="1061.8" r="3.5"/>
<circle cx="1332.3" cy="1075.4" r="3.5"/>
<circle cx="1391.1" cy="1109.9" r="3.5"/>
<circle cx="1352.1" cy="1093.6" r="3.5"/>
<circle cx="1388" cy="1109.8" r="3.5"/>
<circle cx="1392.5" cy="1056.8" r="3.5"/>
<circle cx="1315.5" cy="1052" r="3.5"/>
<circle cx="1330.8" cy="1064.3" r="3.5"/>
<circle cx="1390.2" cy="1073.2" r="3.5"/>
<circle cx="1381.1" cy="1089.2" r="3.5"/>
<circle cx="1390.5" cy="1055.4" r="3.5"/>
<circle cx="1387.3" cy="1054.8" r="3.5"/>
<circle cx="1404.9" cy="1051.9" r="3.5"/>
<circle cx="1402.7" cy="1084.2" r="3.5"/>
<circle cx="1392.6" cy="1051.1" r="3.5"/>
<circle cx="1383.6" cy="1074.6" r="3.5"/>
<circle cx="1345.2" cy="1069.5" r="3.5"/>
<circle cx="1319.4" cy="1100.7" r="3.5"/>
<circle cx="1322.5" cy="1098.3" r="3.5"/>
<circle cx="1350.1" cy="1113.8" r="3.5"/>
<circle cx="1345.9" cy="1103.2" r="3.5"/>
<circle cx="1318.3" cy="1068.4" r="3.5"/>
<circle cx="1333.2" cy="1052.4" r="3.5"/>
<circle cx="1345.2" cy="1097.3" r="3.5"/>
<circle cx="1342.1" cy="1098.3" r="3.5"/>
<circle cx="1372.1" cy="1115.5" r="3.5"/>
<circle cx="1356.6" cy="1115.4" r="3.5"/>
<circle cx="1321.1" cy="1048" r="3.5"/>
<circle cx="1327.9" cy="1080.8" r="3.5"/>
<circle cx="1385.7" cy="1060.8" r="3.5"/>
<circle cx="1362.3" cy="1114.2" r="3.5"/>
<circle cx="1397.6" cy="1113.5" r="3.5"/>
<circle cx="1332.3" cy="1101" r="3.5"/>
<circle cx="1401.2" cy="1062.1" r="3.5"/>
<circle cx="1342" cy="1092" r="3.5"/>
<circle cx="1404.3" cy="1097.4" r="3.5"/>
<circle cx="1388.2" cy="1106.7" r="3.5"/>
<circle cx="1342.6" cy="1056.8" r="3.5"/>
<circle cx="1356.4" cy="1106.8" r="3.5"/>
<circle cx="1352.7" cy="1114.1" r="3.5"/>
<circle cx="1403.2" cy="1104.5" r="3.5"/>
<circle cx="1409.4" cy="1059" r="3.5"/>
<circle cx="1373.4" cy="1111.9" r="3.5"/>
<circle cx="1404" cy="1060.7" r="3.5"/>
<circle cx="1388.3" cy="1093.9" r="3.5"/>
<circle cx="1345.5" cy="1076.1" r="3.5"/>
<circle cx="1333.7" cy="1080.5" r="3.5"/>
<circle cx="1414.5" cy="1079.8" r="3.5"/>
<circle cx="1389.9" cy="1100.3" r="3.5"/>
<circle cx="1352.7" cy="1087.2" r="3.5"/>
<circle cx="1401.2" cy="1108.4" r="3.5"/>
<circle cx="1351.8" cy="1097" r="3.5"/>
<circle cx="1338.9" cy="1080.5" r="3.5"/>
<circle cx="1378.5" cy="1112.4" r="3.5"/>
<circle cx="1330.1" cy="1066.1" r="3.5"/>
<circle cx="1399.9" cy="1065.8" r="3.5"/>
<circle cx="1391.1" cy="1058.7" r="3.5"/>
<circle cx="1358.5" cy="1114.6" r="3.5"/>
<circle cx="1396.8" cy="1055.8" r="3.5"/>
<circle cx="1349.6" cy="1100.3" r="3.5"/>
<circle cx="1338.8" cy="1065.6" r="3.5"/>
<circle cx="1412.9" cy="1053.8" r="3.5"/>
<circle cx="1343.7" cy="1103.7" r="3.5"/>
<circle cx="1356.8" cy="1101.6" r="3.5"/>
<circle cx="1317.4" cy="1103.9" r="3.5"/>
<circle cx="1342.2" cy="1077.6" r="3.5"/>
<circle cx="1379.3" cy="1095.2" r="3.5"/>
<circle cx="1385.5" cy="1088.7" r="3.5"/>
<circle cx="1324.2" cy="1062.9" r="3.5"/>
<circle cx="1327.3" cy="1077.4" r="3.5"/>
<circle cx="1418.9" cy="1099.6" r="3.5"/>
<circle cx="1376.7" cy="1097.3" r="3.5"/>
<circle cx="1316.1" cy="1050.4" r="3.5"/>
<circle cx="1338.3" cy="1081" r="3.5"/>
<circle cx="1325.5" cy="1089.7" r="3.5"/>
<circle cx="1344" cy="1109.1" r="3.5"/>
<circle cx="1324.9" cy="1055.5" r="3.5"/>
<circle cx="1354.9" cy="1114.1" r="3.5"/>
<circle cx="1389.8" cy="1064.4" r="3.5"/>
<circle cx="1340.8" cy="1094.2" r="3.5"/>
<circle cx="1344" cy="1057.4" r="3.5"/>
<circle cx="1386.2" cy="1085.5" r="3.5"/>
<circle cx="1349.6" cy="1112.2" r="3.5"/>
<circle cx="1324.3" cy="1065.9" r="3.5"/>
<circle cx="1349.7" cy="1085.5" r="3.5"/>
<circle cx="1388.9" cy="1053.8" r="3.5"/>
<circle cx="1416.7" cy="1057" r="3.5"/>
<circle cx="1340.6" cy="1106.6" r="3.5"/>
<circle cx="1340.7" cy="1105.1" r="3.5"/>
<circle cx="1322.8" cy="1053.6" r="3.5"/>
<circle cx="1319.8" cy="1065.8" r="3.5"/>
<circle cx="1377.3" cy="1111.9" r="3.5"/>
<circle cx="1324.6" cy="1051" r="3.5"/>
<circle cx="1347.5" cy="1092.3" r="3.5"/>
<circle cx="1374.8" cy="1110" r="3.5"/>
<circle cx="1352.1" cy="1111" r="3.5"/>
<circle cx="1396.8" cy="1049.7" r="3.5"/>
<circle cx="1319.7" cy="1091.9" r="3.5"/>
<circle cx="1335.2" cy="1061.4" r="3.5"/>
<circle cx="1411.6" cy="1094" r="3.5"/>
<circle cx="1344.2" cy="1060.6" r="3.5"/>
<circle cx="1358.8" cy="1100.4" r="3.5"/>
<circle cx="1331.3" cy="1060.5" r="3.5"/>
<circle cx="1398.3" cy="1073.2" r="3.5"/>
<circle cx="1405.6" cy="1057.7" r="3.5"/>
<circle cx="1313.8" cy="1054.1" r="3.5"/>
<circle cx="1395.4" cy="1055.5" r="3.5"/>
<circle cx="1395.4" cy="1101.8" r="3.5"/>
<circle cx="1346.2" cy="1065.8" r="3.5"/>
<circle cx="1358.2" cy="1108.5" r="3.5"/>
<circle cx="1372.8" cy="1107" r="3.5"/>
<circle cx="1354.8" cy="1092.2" r="3.5"/>
<circle cx="1355.7" cy="1109.9" r="3.5"/>
<circle cx="1316.6" cy="1071.7" r="3.5"/>
<circle cx="1375.2" cy="1102" r="3.5"/>
<circle cx="1381.1" cy="1098.7" r="3.5"/>
<circle cx="1316" cy="1046.6" r="3.5"/>
<circle cx="1345.8" cy="1085.9" r="3.5"/>
<circle cx="1381.7" cy="1105.5" r="3.5"/>
<circle cx="1319.1" cy="1058.5" r="3.5"/>
<circle cx="1389.2" cy="1084.3" r="3.5"/>
<circle cx="1394.7" cy="1095.4" r="3.5"/>
<circle cx="1413" cy="1089.3" r="3.5"/>
<circle cx="1313.8" cy="1061.5" r="3.5"/>
<circle cx="1382" cy="1091.3" r="3.5"/>
<circle cx="1327" cy="1073" r="3.5"/>
<circle cx="1400.3" cy="1096" r="3.5"/>
<circle cx="1317.6" cy="1092.2" r="3.5"/>
<circle cx="1348.8" cy="1110.2" r="3.5"/>
<circle cx="1327.1" cy="1113.5" r="3.5"/>
<circle cx="1410.8" cy="1054.1" r="3.5"/>
<circle cx="1391.7" cy="1112.8" r="3.5"/>
<circle cx="1351.4" cy="1076.1" r="3.5"/>
<circle cx="1378.3" cy="1104.4" r="3.5"/>
<circle cx="1376.7" cy="1106.7" r="3.5"/>
<circle cx="1318.8" cy="1051.8" r="3.5"/>
<circle cx="1399.8" cy="1095.2" r="3.5"/>
<circle cx="1379.4" cy="1102" r="3.5"/>
<circle cx="1402" cy="1093" r="3.5"/>
<circle cx="1334.8" cy="1061" r="3.5"/>
<circle cx="1319.7" cy="1099" r="3.5"/>
<circle cx="1340.2" cy="1068.1" r="3.5"/>
<circle cx="1338.2" cy="1050.4" r="3.5"/>
<circle cx="1358.7" cy="1110.7" r="3.5"/>
<circle cx="1332.3" cy="1055.5" r="3.5"/>
<circle cx="1340.9" cy="1055.9" r="3.5"/>
<circle cx="1349" cy="1103.8" r="3.5"/>
<circle cx="1384.4" cy="1065.8" r="3.5"/>
<circle cx="1328.6" cy="1079" r="3.5"/>
<circle cx="1314.7" cy="1074.6" r="3.5"/>
<circle cx="1410.1" cy="1104.7" r="3.5"/>
<circle cx="1313.9" cy="1079.8" r="3.5"/>
<circle cx="1393.7" cy="1097" r="3.5"/>
<circle cx="1333.5" cy="1057.5" r="3.5"/>
<circle cx="1372.4" cy="1114.3" r="3.5"/>
<circle cx="1335.2" cy="1110.6" r="3.5"/>
<circle cx="1413.6" cy="1103.7" r="3.5"/>
<circle cx="1325.4" cy="1097.4" r="3.5"/>
<circle cx="1347" cy="1113.2" r="3.5"/>
<circle cx="1392.3" cy="1104.9" r="3.5"/>
<circle cx="1393.2" cy="1059.9" r="3.5"/>
<circle cx="1368.7" cy="1115.1" r="3.5"/>
<circle cx="1336.3" cy="1062" r="3.5"/>
<circle cx="1354.7" cy="1098.9" r="3.5"/>
<circle cx="1318.3" cy="1043.4" r="3.5"/>
<circle cx="1325.7" cy="1072.4" r="3.5"/>
<circle cx="1313.2" cy="1059.2" r="3.5"/>
<circle cx="1345.8" cy="1089.5" r="3.5"/>
<circle cx="1340.6" cy="1097.7" r="3.5"/>
<circle cx="1343.1" cy="1089.3" r="3.5"/>
<circle cx="1349.2" cy="1092" r="3.5"/>
<circle cx="1329.3" cy="1087.1" r="3.5"/>
<circle cx="1348.8" cy="1094.7" r="3.5"/>
<circle cx="1382.1" cy="1094.7" r="3.5"/>
<circle cx="1340.4" cy="1065.8" r="3.5"/>
<circle cx="1316.2" cy="1083.8" r="3.5"/>
<circle cx="1394.8" cy="1048.4" r="3.5"/>
<circle cx="1316.9" cy="1083.4" r="3.5"/>
<circle cx="1394.9" cy="1066.1" r="3.5"/>
<circle cx="1328.6" cy="1049.7" r="3.5"/>
<circle cx="1378.5" cy="1107.1" r="3.5"/>
<circle cx="1339.8" cy="1100.2" r="3.5"/>
<circle cx="1340.4" cy="1112.8" r="3.5"/>
<circle cx="1323.5" cy="1092.2" r="3.5"/>
<circle cx="1346.1" cy="1111.6" r="3.5"/>
<circle cx="1338.2" cy="1076.8" r="3.5"/>
<circle cx="1322" cy="1084.9" r="3.5"/>
<circle cx="1322" cy="1112.8" r="3.5"/>
<circle cx="1396.1" cy="1045.3" r="3.5"/>
<circle cx="1317" cy="1059" r="3.5"/>
<circle cx="1345.4" cy="1094" r="3.5"/>
<circle cx="1362.4" cy="1114.6" r="3.5"/>
<circle cx="1316.9" cy="1108.4" r="3.5"/>
<circle cx="1318.3" cy="1098.8" r="3.5"/>
<circle cx="1333.7" cy="1078.7" r="3.5"/>
<circle cx="1388.4" cy="1087.2" r="3.5"/>
<circle cx="1400.2" cy="1092.2" r="3.5"/>
<circle cx="1333.7" cy="1087.8" r="3.5"/>
<circle cx="1375.1" cy="1105.4" r="3.5"/>
<circle cx="1349.3" cy="1089" r="3.5"/>
<circle cx="1322.6" cy="1090.6" r="3.5"/>
<circle cx="1344.1" cy="1108.2" r="3.5"/>
<circle cx="1358.4" cy="1103.7" r="3.5"/>
<circle cx="1392.4" cy="1097.4" r="3.5"/>
<circle cx="1360.3" cy="1114" r="3.5"/>
<circle cx="1342.7" cy="1100.6" r="3.5"/>
</g>
<g fill="#228b22" fill-opacity="0.85">
<circle cx="1193.5" cy="1062.2" r="3.5"/>
<circle cx="1212.8" cy="1052.1" r="3.5"/>
<circle cx="1217.1" cy="1074.9" r="3.5"/>
<circle cx="1228" cy="1080.8" r="3.5"/>
<circle cx="1244.3" cy="1075.4" r="3.5"/>
<circle cx="1250.9" cy="1085.8" r="3.5"/>
<circle cx="1255.2" cy="1092.7" r="3.5"/>
<circle cx="1256" cy="1096" r="3.5"/>
<circle cx="1257.7" cy="1101.1" r="3.5"/>
<circle cx="1221.4" cy="1100.3" r="3.5"/>
<circle cx="1238.2" cy="1101.1" r="3.5"/>
<circle cx="1243.3" cy="1102.1" r="3.5"/>
<circle cx="1245.8" cy="1103.6" r="3.5"/>
<circle cx="1267.9" cy="1048.2" r="3.5"/>
<circle cx="1271.2" cy="1055.4" r="3.5"/>
<circle cx="1267.9" cy="1075.7" r="3.5"/>
<circle cx="1274.8" cy="1078.2" r="3.5"/>
<circle cx="1279.8" cy="1085.1" r="3.5"/>
<circle cx="1272.2" cy="1098.5" r="3.5"/>
<circle cx="1280.6" cy="1099.5" r="3.5"/>
<circle cx="1266.1" cy="1106.7" r="3.5"/>
<circle cx="1269.2" cy="1107.2" r="3.5"/>
<circle cx="1273" cy="1107.9" r="3.5"/>
<circle cx="1277.3" cy="1107.9" r="3.5"/>
<circle cx="1283.1" cy="1062.2" r="3.5"/>
<circle cx="1290" cy="1065.5" r="3.5"/>
<circle cx="1296.6" cy="1070.6" r="3.5"/>
<circle cx="1303.5" cy="1068.1" r="3.5"/>
<circle cx="1299.6" cy="1057.9" r="3.5"/>
<circle cx="1294.6" cy="1080.8" r="3.5"/>
<circle cx="1295.1" cy="1083.3" r="3.5"/>
<circle cx="1300.9" cy="1088.9" r="3.5"/>
<circle cx="1293.3" cy="1104.1" r="3.5"/>
<circle cx="1294.1" cy="1106.1" r="3.5"/>
<circle cx="1302.2" cy="1104.1" r="3.5"/>
<circle cx="1309.3" cy="1096" r="3.5"/>
<circle cx="1309.3" cy="1047.7" r="3.5"/>
<circle cx="1310.3" cy="1057.1" r="3.5"/>
<circle cx="1310.3" cy="1074.1" r="3.5"/>
<circle cx="1421" cy="1073.6" r="3.5"/>
<circle cx="1434.3" cy="1066.8" r="3.5"/>
<circle cx="1435.3" cy="1076.1" r="3.5"/>
<circle cx="1456.7" cy="1063.6" r="3.5"/>
<circle cx="1426" cy="1092.3" r="3.5"/>
<circle cx="1429.3" cy="1096" r="3.5"/>
<circle cx="1437.3" cy="1101" r="3.5"/>
<circle cx="1419.8" cy="1099.8" r="3.5"/>
<circle cx="1424.3" cy="1104.8" r="3.5"/>
<circle cx="1428.5" cy="1106.8" r="3.5"/>
<circle cx="1431.8" cy="1109.3" r="3.5"/>
<circle cx="1417.8" cy="1109.8" r="3.5"/>
<circle cx="1453.5" cy="1097.3" r="3.5"/>
<circle cx="1459.2" cy="1091.8" r="3.5"/>
<circle cx="1459.7" cy="1101.8" r="3.5"/>
<circle cx="1452.7" cy="1106" r="3.5"/>
<circle cx="1472.7" cy="1098" r="3.5"/>
<circle cx="1481.7" cy="1095.3" r="3.5"/>
<circle cx="1484.2" cy="1104.3" r="3.5"/>
<circle cx="1467.7" cy="1106" r="3.5"/>
<circle cx="1476.7" cy="1105.3" r="3.5"/>
<circle cx="1493.4" cy="1072.8" r="3.5"/>
<circle cx="1498.4" cy="1085.3" r="3.5"/>
<circle cx="1507.1" cy="1094.3" r="3.5"/>
<circle cx="1509.1" cy="1097.8" r="3.5"/>
<circle cx="1501.6" cy="1099.8" r="3.5"/>
<circle cx="1522.1" cy="1070.3" r="3.5"/>
<circle cx="1524.1" cy="1086.8" r="3.5"/>
<circle cx="1541.5" cy="1086.1" r="3.5"/>
<circle cx="1546.5" cy="1076.8" r="3.5"/>
</g>
<g fill="#4169e1" fill-opacity="0.85">
<circle cx="1325" cy="953.2" r="3.5"/>
<circle cx="1332.3" cy="986.2" r="3.5"/>
<circle cx="1339.1" cy="1000.7" r="3.5"/>
<circle cx="1325.8" cy="1004.5" r="3.5"/>
<circle cx="1329.5" cy="1006.1" r="3.5"/>
<circle cx="1333.8" cy="1015.6" r="3.5"/>
<circle cx="1340.6" cy="1016.2" r="3.5"/>
<circle cx="1330.9" cy="1019.6" r="3.5"/>
<circle cx="1329.2" cy="1021.9" r="3.5"/>
<circle cx="1334.3" cy="1023" r="3.5"/>
<circle cx="1337.8" cy="1026.5" r="3.5"/>
<circle cx="1339.5" cy="1028.7" r="3.5"/>
<circle cx="1327.5" cy="1023.6" r="3.5"/>
<circle cx="1324" cy="1029.3" r="3.5"/>
<circle cx="1326.9" cy="1032.8" r="3.5"/>
<circle cx="1332.1" cy="1036.2" r="3.5"/>
<circle cx="1333.2" cy="1039" r="3.5"/>
<circle cx="1336.6" cy="1041.3" r="3.5"/>
<circle cx="1334.3" cy="1032.2" r="3.5"/>
<circle cx="1330.3" cy="1026.5" r="3.5"/>
<circle cx="1332.6" cy="1029.3" r="3.5"/>
<circle cx="1408.2" cy="944.6" r="3.5"/>
<circle cx="1406.5" cy="951.5" r="3.5"/>
<circle cx="1400.7" cy="954.9" r="3.5"/>
<circle cx="1398.4" cy="957.2" r="3.5"/>
<circle cx="1411.6" cy="957.2" r="3.5"/>
<circle cx="1419" cy="954.3" r="3.5"/>
<circle cx="1402.4" cy="963.5" r="3.5"/>
<circle cx="1413.9" cy="964.1" r="3.5"/>
<circle cx="1415.6" cy="962.9" r="3.5"/>
<circle cx="1402.4" cy="979.5" r="3.5"/>
<circle cx="1399.8" cy="988.1" r="3.5"/>
<circle cx="1418.5" cy="985.8" r="3.5"/>
<circle cx="1408.2" cy="996.5" r="3.5"/>
<circle cx="1404.4" cy="1006.4" r="3.5"/>
<circle cx="1410.1" cy="1014.2" r="3.5"/>
<circle cx="1393.3" cy="1016.2" r="3.5"/>
<circle cx="1394.4" cy="1019" r="3.5"/>
<circle cx="1404.7" cy="1021.3" r="3.5"/>
<circle cx="1390.4" cy="1027" r="3.5"/>
<circle cx="1405.9" cy="1025.3" r="3.5"/>
<circle cx="1406.5" cy="1027.6" r="3.5"/>
<circle cx="1395.9" cy="1031.6" r="3.5"/>
<circle cx="1408.7" cy="1033.3" r="3.5"/>
<circle cx="1391.6" cy="1036.2" r="3.5"/>
<circle cx="1395" cy="1036.8" r="3.5"/>
<circle cx="1403.6" cy="1039" r="3.5"/>
<circle cx="1419" cy="1030.5" r="3.5"/>
<circle cx="1420.4" cy="1036.8" r="3.5"/>
</g>
<g fill="#ee0000" fill-opacity="0.85">
<circle cx="1303.1" cy="811.9" r="3.5"/>
<circle cx="1283.7" cy="912.1" r="3.5"/>
<circle cx="1284.9" cy="918.8" r="3.5"/>
<circle cx="1311.1" cy="941.9" r="3.5"/>
<circle cx="1226.9" cy="944.8" r="3.5"/>
<circle cx="1295.7" cy="952.7" r="3.5"/>
<circle cx="1258.9" cy="960.2" r="3.5"/>
<circle cx="1274.9" cy="971.4" r="3.5"/>
<circle cx="1291.9" cy="996.7" r="3.5"/>
<circle cx="1291.9" cy="999" r="3.5"/>
<circle cx="1291.6" cy="1006.2" r="3.5"/>
<circle cx="1199.8" cy="1003" r="3.5"/>
<circle cx="1305.6" cy="1018.2" r="3.5"/>
<circle cx="1311.3" cy="1035.9" r="3.5"/>
<circle cx="1444.8" cy="844.3" r="3.5"/>
<circle cx="1443.2" cy="859" r="3.5"/>
<circle cx="1421.2" cy="865.7" r="3.5"/>
<circle cx="1451.8" cy="913.8" r="3.5"/>
<circle cx="1420.9" cy="950.5" r="3.5"/>
<circle cx="1429.7" cy="981.3" r="3.5"/>
<circle cx="1430.7" cy="989.5" r="3.5"/>
<circle cx="1439.6" cy="990.1" r="3.5"/>
<circle cx="1507.9" cy="1009.7" r="3.5"/>
<circle cx="1591.9" cy="1006.3" r="3.5"/>
</g>
</g>
<g stroke="#333" stroke-width="1.8" stroke-dasharray="5.3 3.4" fill="none">
<line x1="1311.8" y1="640.5" x2="1311.8" y2="1146.8"/>
<line x1="1419.8" y1="640.5" x2="1419.8" y2="1146.8"/>
<line x1="1009" y1="1042" x2="1619.3" y2="1042"/>
</g>
<g stroke="#1a1a1a" stroke-width="1" fill="#000">
<line x1="1304.1" y1="942.9" x2="1233.7" y2="739.4"/><polygon points="1231.4,732.8 1237,738.3 1230.4,740.6"/>
<line x1="1283.4" y1="913.4" x2="1233.6" y2="764.9"/><polygon points="1231.4,758.3 1236.9,763.8 1230.3,766"/>
<line x1="1226.5" y1="934" x2="1227.5" y2="789.8"/><polygon points="1227.5,782.8 1231,789.8 1224,789.8"/>
<line x1="1292.3" y1="949.7" x2="1225.7" y2="812.7"/><polygon points="1222.6,806.4 1228.8,811.2 1222.5,814.2"/>
<line x1="1256" y1="951.7" x2="1225.4" y2="838.7"/><polygon points="1223.6,831.9 1228.8,837.7 1222,839.6"/>
<line x1="1271.5" y1="966.3" x2="1225.5" y2="866.8"/><polygon points="1222.6,860.4 1228.7,865.3 1222.4,868.2"/>
<line x1="1285.6" y1="996.7" x2="1229" y2="929.6"/><polygon points="1224.5,924.2 1231.7,927.3 1226.3,931.8"/>
<line x1="1286.7" y1="1005.8" x2="1224.8" y2="950.5"/><polygon points="1219.6,945.8 1227.2,947.9 1222.5,953.1"/>
<line x1="1298" y1="1018.8" x2="1225.4" y2="975.5"/><polygon points="1219.4,971.9 1227.2,972.5 1223.6,978.5"/>
<line x1="1303.6" y1="1035.6" x2="1202.5" y2="998"/><polygon points="1195.9,995.6 1203.7,994.8 1201.2,1001.3"/>
<line x1="1203.2" y1="1009.1" x2="1195.6" y2="1016.7"/><polygon points="1190.7,1021.6 1193.2,1014.2 1198.1,1019.1"/>
<line x1="1444.8" y1="838.7" x2="1453.2" y2="785.8"/><polygon points="1454.3,778.9 1456.7,786.4 1449.7,785.3"/>
<line x1="1446.2" y1="858.2" x2="1454.4" y2="816.4"/><polygon points="1455.7,809.5 1457.8,817 1450.9,815.7"/>
<line x1="1424" y1="865.1" x2="1464.2" y2="832"/><polygon points="1469.6,827.6 1466.4,834.7 1462,829.3"/>
<line x1="1451.8" y1="909.6" x2="1451.2" y2="898.5"/><polygon points="1450.9,891.5 1454.7,898.3 1447.8,898.7"/>
<line x1="1429.5" y1="949.1" x2="1443" y2="943.4"/><polygon points="1449.5,940.7 1444.4,946.6 1441.7,940.2"/>
<line x1="1437" y1="974.9" x2="1446.6" y2="967.9"/><polygon points="1452.3,963.8 1448.7,970.7 1444.6,965.1"/>
<line x1="1444" y1="994.4" x2="1458.7" y2="994.9"/><polygon points="1465.7,995.2 1458.6,998.4 1458.8,991.4"/>
<line x1="1505.1" y1="1010.2" x2="1490.5" y2="1018"/><polygon points="1484.3,1021.3 1488.8,1014.9 1492.1,1021.1"/>
<line x1="1591.9" y1="1015.2" x2="1592.5" y2="1038.8"/><polygon points="1592.7,1045.8 1589,1038.9 1596,1038.7"/>
</g>
<g font-family="'Liberation Serif', 'Times New Roman', serif" font-size="21.3" fill="#000">
<text x="1454.1" y="777.5">dre−miR−221−5p</text>
<text x="1454.1" y="799.2">pol−miR−221−5p</text>
<text x="1454.1" y="821.5">ccr−miR−122</text>
<text x="1454.1" y="893.5" clip-path="url(#clipD)">gmo−miR−221−5p</text>
<text x="1452.7" y="943">dre−let−7c−5p</text>
<text x="1454.1" y="965.2">ssa−miR−21b−3p</text>
<text x="1452.7" y="989.4">ssa−let−7f−3p</text>
<text x="1449.1" y="1034.7">ola−miR−135b</text>
<text x="1449.1" y="1061.1">ssa−miR−221−3p</text>
<text x="1220.6" y="730.6" text-anchor="end">dre−miR−10d−5p</text>
<text x="1220.6" y="754.7" text-anchor="end">abu−miR−10545−5p</text>
<text x="1220.6" y="776.8" text-anchor="end">dre−miR−182−5p</text>
<text x="1220.6" y="801.7" text-anchor="end">ccr−miR−489</text>
<text x="1220.6" y="825.8" text-anchor="end">ccr−miR−133a−3p</text>
<text x="1220.6" y="853.8" text-anchor="end">dre−miR−2188−5p</text>
<text x="1219" y="920" text-anchor="end">dre−miR−183−5p</text>
<text x="1214.4" y="944.8" text-anchor="end">abu−miR−451</text>
<text x="1214.4" y="967.8" text-anchor="end">abu−miR−734</text>
<text x="1189.6" y="997.9" text-anchor="end">dre−miR−1</text>
<text x="1188.5" y="1025.6" text-anchor="end">dre−miR−375</text>
<text x="1435.1" y="819.2" text-anchor="end">dre−miR−223</text>
</g>
<g stroke="#000" stroke-width="2.2" fill="none" stroke-linecap="butt">
<line x1="1009" y1="641.7" x2="1009" y2="1147.9"/>
<line x1="1007.9" y1="1146.8" x2="1619.3" y2="1146.8"/>
<line x1="1095.8" y1="1146.8" x2="1095.8" y2="1154"/>
<line x1="1230.8" y1="1146.8" x2="1230.8" y2="1154"/>
<line x1="1365.8" y1="1146.8" x2="1365.8" y2="1154"/>
<line x1="1500.8" y1="1146.8" x2="1500.8" y2="1154"/>
<line x1="1002" y1="1117.3" x2="1009" y2="1117.3"/>
<line x1="1002" y1="972.5" x2="1009" y2="972.5"/>
<line x1="1002" y1="827.8" x2="1009" y2="827.8"/>
</g>
<g font-family="'Liberation Serif', 'Times New Roman', serif" font-size="19.5" fill="#1e1e1e">
<text x="1095.8" y="1175.2" text-anchor="middle">−5.0</text>
<text x="1230.8" y="1175.2" text-anchor="middle">−2.5</text>
<text x="1365.8" y="1175.2" text-anchor="middle">0.0</text>
<text x="1500.8" y="1175.2" text-anchor="middle">2.5</text>
<text x="991.6" y="1123.9" text-anchor="end">0.0</text>
<text x="991.6" y="979.1" text-anchor="end">2.5</text>
<text x="991.6" y="834.4" text-anchor="end">5.0</text>
</g>
<text x="1232.3" y="667.1" font-family="'Liberation Serif', 'Times New Roman', serif" font-weight="bold" font-size="38.4" fill="#000">CT−vs−LT12-6</text>
<text x="1227.5" y="1210.8" font-family="'Liberation Serif', 'Times New Roman', serif" font-size="32" fill="#000">Log2 fold change</text>
<text x="1464.2" y="1212" font-family="'Liberation Serif', 'Times New Roman', serif" font-size="20.9" fill="#000">(Total = 759 variables)</text>
<text transform="translate(945.6,896) rotate(-90)" text-anchor="middle" font-family="'Liberation Serif', 'Times New Roman', serif" font-size="32" fill="#000">−Log10(P-value)</text>
<text x="914" y="644.3" font-family="'Liberation Sans', Arial, sans-serif" font-weight="bold" font-size="30.5" fill="#000">D</text>
<circle cx="1645.5" cy="875.7" r="7.4" fill="#4d4d4d" fill-opacity="0.85"/>
<text x="1663.1" y="881.1" font-family="'Liberation Serif', 'Times New Roman', serif" font-size="19.2" fill="#000">NS</text>
<circle cx="1645.5" cy="892.9" r="7.4" fill="#228b22" fill-opacity="0.85"/>
<text x="1663.1" y="898.3" font-family="'Liberation Serif', 'Times New Roman', serif" font-size="19.2" fill="#000">Log2 FC</text>
<circle cx="1645.5" cy="910.1" r="7.4" fill="#4169e1" fill-opacity="0.85"/>
<text x="1663.1" y="915.5" font-family="'Liberation Serif', 'Times New Roman', serif" font-size="19.2" fill="#000">P</text>
<circle cx="1645.5" cy="928.5" r="7.4" fill="#ee0000" fill-opacity="0.85"/>
<text x="1663.1" y="933.9" font-family="'Liberation Serif', 'Times New Roman', serif" font-size="19.2" fill="#000">P &amp; Log2 FC</text></g>
</svg>
</body></html>
